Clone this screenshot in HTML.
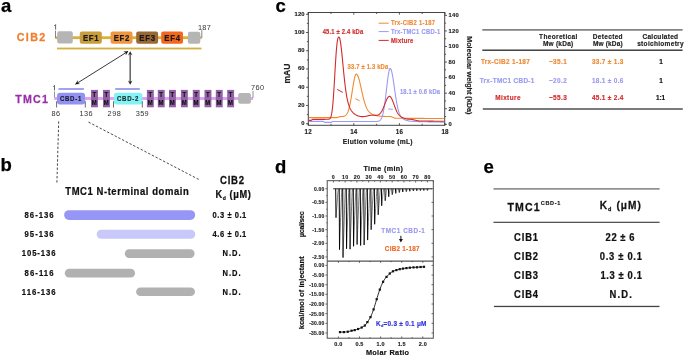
<!DOCTYPE html>
<html><head><meta charset="utf-8"><style>
html,body{margin:0;padding:0;background:#fff;overflow:hidden;width:685px;height:356px;}
svg{display:block;filter:blur(0.3px);}
text{font-family:"Liberation Sans",sans-serif;}
</style></head><body>
<svg width="685" height="356" viewBox="0 0 685 356">
<rect width="685" height="356" fill="#fff"/>
<text x="1.00" y="11.70" font-size="18.5" fill="#000" font-weight="bold" textLength="9.80" lengthAdjust="spacing" stroke="#000" stroke-width="0.250" >a</text>
<text transform="scale(0.92,1)" x="18.26" y="41.41" font-size="11.7" fill="#EE7F2E" font-weight="bold" textLength="30.87" lengthAdjust="spacing" stroke="#EE7F2E" stroke-width="0.250">CIB2</text>
<rect x="55.50" y="36.30" width="146.00" height="2.80" rx="0" fill="#D9B23A" />
<line x1="55.50" y1="30.60" x2="55.50" y2="38.20" stroke="#777" stroke-width="0.9" />
<path d="M54.2,26.0 L55.6,24.6 L55.6,29.5" fill="none" stroke="#333" stroke-width="0.75"/>
<rect x="57.20" y="31.20" width="15.60" height="12.40" rx="2" fill="#B5B5B5" />
<rect x="79.80" y="31.40" width="22.00" height="12.40" rx="2" fill="#C99C3C" />
<text transform="scale(0.92,1)" x="90.11" y="40.86" font-size="8.5" fill="#1a1a1a" font-weight="bold" textLength="17.17" lengthAdjust="spacing" stroke="#1a1a1a" stroke-width="0.204">EF1</text>
<rect x="110.60" y="31.40" width="21.90" height="12.40" rx="2" fill="#F0963E" />
<text transform="scale(0.92,1)" x="123.53" y="40.86" font-size="8.5" fill="#1a1a1a" font-weight="bold" textLength="17.17" lengthAdjust="spacing" stroke="#1a1a1a" stroke-width="0.204">EF2</text>
<rect x="136.20" y="31.40" width="21.90" height="12.40" rx="2" fill="#9A6834" />
<text transform="scale(0.92,1)" x="151.36" y="40.86" font-size="8.5" fill="#1a1a1a" font-weight="bold" textLength="17.17" lengthAdjust="spacing" stroke="#1a1a1a" stroke-width="0.204">EF3</text>
<rect x="161.20" y="31.40" width="21.80" height="12.40" rx="2" fill="#F2661E" />
<text transform="scale(0.92,1)" x="178.48" y="40.86" font-size="8.5" fill="#1a1a1a" font-weight="bold" textLength="17.17" lengthAdjust="spacing" stroke="#1a1a1a" stroke-width="0.204">EF4</text>
<rect x="187.90" y="31.80" width="12.40" height="12.00" rx="2" fill="#B5B5B5" />
<line x1="201.80" y1="30.20" x2="201.80" y2="38.00" stroke="#777" stroke-width="0.9" />
<text transform="scale(0.92,1)" x="215.22" y="29.68" font-size="8.0" fill="#333" font-weight="normal" textLength="13.91" lengthAdjust="spacing">187</text>
<rect x="57.00" y="47.60" width="144.50" height="1.80" rx="0" fill="#D4AF3A" />
<line x1="75.40" y1="84.30" x2="128.10" y2="51.30" stroke="#222" stroke-width="0.9" />
<path d="M128.10,51.30 L125.75,55.49 L125.86,52.70 L123.31,51.59Z" fill="#111"/>
<path d="M75.40,84.30 L77.75,80.11 L77.64,82.90 L80.19,84.01Z" fill="#111"/>
<line x1="130.20" y1="53.00" x2="130.20" y2="83.00" stroke="#6a6a6a" stroke-width="1.6" />
<path d="M130.20,51.20 L132.50,55.41 L130.20,53.84 L127.90,55.41Z" fill="#222"/>
<path d="M130.20,84.70 L127.90,80.49 L130.20,82.06 L132.50,80.49Z" fill="#222"/>
<text transform="scale(0.92,1)" x="16.63" y="103.03" font-size="11.6" fill="#9A2EA8" font-weight="bold" textLength="35.43" lengthAdjust="spacing" stroke="#9A2EA8" stroke-width="0.250">TMC1</text>
<rect x="54.30" y="97.00" width="198.80" height="3.00" rx="0" fill="#DDA6EE" />
<line x1="54.50" y1="91.50" x2="54.50" y2="97.50" stroke="#888" stroke-width="0.9" />
<path d="M53.1,86.8 L54.5,85.4 L54.5,90.4" fill="none" stroke="#333" stroke-width="0.75"/>
<rect x="58.50" y="88.20" width="25.40" height="1.60" rx="0" fill="#8C8CF0" />
<rect x="115.20" y="88.20" width="24.60" height="1.60" rx="0" fill="#8C8CF0" />
<rect x="57.00" y="92.70" width="28.10" height="11.90" rx="3" fill="#9292F2" />
<text transform="scale(0.92,1)" x="65.11" y="100.88" font-size="6.6" fill="#1a1a2a" font-weight="bold" textLength="23.26" lengthAdjust="spacing" stroke="#1a1a2a" stroke-width="0.158">CBD-1</text>
<rect x="113.90" y="92.80" width="28.50" height="11.80" rx="3" fill="#82F2F6" />
<text transform="scale(0.92,1)" x="127.07" y="100.93" font-size="6.6" fill="#1a2a2a" font-weight="bold" textLength="23.48" lengthAdjust="spacing" stroke="#1a2a2a" stroke-width="0.158">CBD-2</text>
<rect x="91.00" y="89.90" width="6.90" height="17.40" rx="0" fill="#9160A6" />
<text transform="scale(0.92,1)" x="100.54" y="97.04" font-size="6.5" fill="#111" font-weight="bold" textLength="4.24" lengthAdjust="spacing" stroke="#111" stroke-width="0.156">T</text>
<text transform="scale(0.92,1)" x="99.78" y="104.84" font-size="6.5" fill="#111" font-weight="bold" textLength="5.76" lengthAdjust="spacing" stroke="#111" stroke-width="0.156">M</text>
<rect x="103.00" y="89.90" width="6.90" height="17.40" rx="0" fill="#9160A6" />
<text transform="scale(0.92,1)" x="113.59" y="97.04" font-size="6.5" fill="#111" font-weight="bold" textLength="4.24" lengthAdjust="spacing" stroke="#111" stroke-width="0.156">T</text>
<text transform="scale(0.92,1)" x="112.83" y="104.84" font-size="6.5" fill="#111" font-weight="bold" textLength="5.76" lengthAdjust="spacing" stroke="#111" stroke-width="0.156">M</text>
<rect x="146.90" y="89.90" width="6.90" height="17.40" rx="0" fill="#9160A6" />
<text transform="scale(0.92,1)" x="161.30" y="97.04" font-size="6.5" fill="#111" font-weight="bold" textLength="4.24" lengthAdjust="spacing" stroke="#111" stroke-width="0.156">T</text>
<text transform="scale(0.92,1)" x="160.54" y="104.84" font-size="6.5" fill="#111" font-weight="bold" textLength="5.76" lengthAdjust="spacing" stroke="#111" stroke-width="0.156">M</text>
<rect x="157.80" y="89.90" width="6.90" height="17.40" rx="0" fill="#9160A6" />
<text transform="scale(0.92,1)" x="173.15" y="97.04" font-size="6.5" fill="#111" font-weight="bold" textLength="4.24" lengthAdjust="spacing" stroke="#111" stroke-width="0.156">T</text>
<text transform="scale(0.92,1)" x="172.39" y="104.84" font-size="6.5" fill="#111" font-weight="bold" textLength="5.76" lengthAdjust="spacing" stroke="#111" stroke-width="0.156">M</text>
<rect x="169.00" y="89.90" width="6.90" height="17.40" rx="0" fill="#9160A6" />
<text transform="scale(0.92,1)" x="185.33" y="97.04" font-size="6.5" fill="#111" font-weight="bold" textLength="4.24" lengthAdjust="spacing" stroke="#111" stroke-width="0.156">T</text>
<text transform="scale(0.92,1)" x="184.57" y="104.84" font-size="6.5" fill="#111" font-weight="bold" textLength="5.76" lengthAdjust="spacing" stroke="#111" stroke-width="0.156">M</text>
<rect x="180.90" y="89.90" width="6.90" height="17.40" rx="0" fill="#9160A6" />
<text transform="scale(0.92,1)" x="198.26" y="97.04" font-size="6.5" fill="#111" font-weight="bold" textLength="4.24" lengthAdjust="spacing" stroke="#111" stroke-width="0.156">T</text>
<text transform="scale(0.92,1)" x="197.50" y="104.84" font-size="6.5" fill="#111" font-weight="bold" textLength="5.76" lengthAdjust="spacing" stroke="#111" stroke-width="0.156">M</text>
<rect x="192.80" y="89.90" width="6.90" height="17.40" rx="0" fill="#9160A6" />
<text transform="scale(0.92,1)" x="211.20" y="97.04" font-size="6.5" fill="#111" font-weight="bold" textLength="4.24" lengthAdjust="spacing" stroke="#111" stroke-width="0.156">T</text>
<text transform="scale(0.92,1)" x="210.43" y="104.84" font-size="6.5" fill="#111" font-weight="bold" textLength="5.76" lengthAdjust="spacing" stroke="#111" stroke-width="0.156">M</text>
<rect x="204.50" y="89.90" width="6.90" height="17.40" rx="0" fill="#9160A6" />
<text transform="scale(0.92,1)" x="223.91" y="97.04" font-size="6.5" fill="#111" font-weight="bold" textLength="4.24" lengthAdjust="spacing" stroke="#111" stroke-width="0.156">T</text>
<text transform="scale(0.92,1)" x="223.15" y="104.84" font-size="6.5" fill="#111" font-weight="bold" textLength="5.76" lengthAdjust="spacing" stroke="#111" stroke-width="0.156">M</text>
<rect x="215.80" y="89.90" width="6.90" height="17.40" rx="0" fill="#9160A6" />
<text transform="scale(0.92,1)" x="236.20" y="97.04" font-size="6.5" fill="#111" font-weight="bold" textLength="4.24" lengthAdjust="spacing" stroke="#111" stroke-width="0.156">T</text>
<text transform="scale(0.92,1)" x="235.43" y="104.84" font-size="6.5" fill="#111" font-weight="bold" textLength="5.76" lengthAdjust="spacing" stroke="#111" stroke-width="0.156">M</text>
<rect x="227.20" y="89.90" width="6.90" height="17.40" rx="0" fill="#9160A6" />
<text transform="scale(0.92,1)" x="248.59" y="97.04" font-size="6.5" fill="#111" font-weight="bold" textLength="4.24" lengthAdjust="spacing" stroke="#111" stroke-width="0.156">T</text>
<text transform="scale(0.92,1)" x="247.83" y="104.84" font-size="6.5" fill="#111" font-weight="bold" textLength="5.76" lengthAdjust="spacing" stroke="#111" stroke-width="0.156">M</text>
<rect x="238.20" y="93.00" width="12.70" height="10.80" rx="2" fill="#B5B5B5" />
<line x1="253.00" y1="90.80" x2="253.00" y2="97.80" stroke="#888" stroke-width="0.9" />
<text transform="scale(0.92,1)" x="272.72" y="90.28" font-size="8.0" fill="#333" font-weight="normal" textLength="14.24" lengthAdjust="spacing">760</text>
<line x1="56.60" y1="101.30" x2="56.60" y2="107.50" stroke="#444" stroke-width="0.8" />
<line x1="85.30" y1="101.30" x2="85.30" y2="107.50" stroke="#444" stroke-width="0.8" />
<line x1="113.50" y1="101.30" x2="113.50" y2="107.50" stroke="#444" stroke-width="0.8" />
<line x1="142.30" y1="101.30" x2="142.30" y2="107.50" stroke="#444" stroke-width="0.8" />
<text transform="scale(0.92,1)" x="55.87" y="115.88" font-size="8.0" fill="#333" font-weight="normal" textLength="9.46" lengthAdjust="spacing">86</text>
<text transform="scale(0.92,1)" x="86.52" y="115.88" font-size="8.0" fill="#333" font-weight="normal" textLength="14.24" lengthAdjust="spacing">136</text>
<text transform="scale(0.92,1)" x="116.96" y="115.88" font-size="8.0" fill="#333" font-weight="normal" textLength="14.46" lengthAdjust="spacing">298</text>
<text transform="scale(0.92,1)" x="147.61" y="115.88" font-size="8.0" fill="#333" font-weight="normal" textLength="13.91" lengthAdjust="spacing">359</text>
<line x1="58.7" y1="121.4" x2="56.9" y2="182.6" stroke="#333" stroke-width="0.9" stroke-dasharray="2.4,1.8"/>
<line x1="88.5" y1="122.1" x2="199.1" y2="179.6" stroke="#333" stroke-width="0.9" stroke-dasharray="2.4,1.8"/>
<text x="0.60" y="171.30" font-size="18.5" fill="#000" font-weight="bold" textLength="11.60" lengthAdjust="spacing" stroke="#000" stroke-width="0.250" >b</text>
<text transform="scale(0.92,1)" x="70.98" y="194.80" font-size="10.3" fill="#111" font-weight="bold" textLength="134.13" lengthAdjust="spacing" stroke="#111" stroke-width="0.247">TMC1 N-terminal domain</text>
<text transform="scale(0.92,1)" x="239.02" y="184.04" font-size="10.4" fill="#111" font-weight="bold" textLength="26.41" lengthAdjust="spacing" stroke="#111" stroke-width="0.250">CIB2</text>
<text transform="scale(0.92,1)" x="234.24" y="198.20" font-size="10.0" fill="#111" font-weight="bold" textLength="38.48" lengthAdjust="spacing" stroke="#111" stroke-width="0.240">K<tspan font-size="5.5" dy="1.6">d</tspan><tspan dy="-1.6"> (μM)</tspan></text>
<rect x="64.10" y="210.20" width="131.10" height="9.70" rx="4.8500000000000085" fill="#9696F6" />
<rect x="96.70" y="229.70" width="98.50" height="9.10" rx="4.550000000000011" fill="#C8C8F9" />
<rect x="124.80" y="249.20" width="69.80" height="8.70" rx="4.349999999999994" fill="#B1B1B1" />
<rect x="64.80" y="268.80" width="70.20" height="8.70" rx="4.349999999999994" fill="#B1B1B1" />
<rect x="136.10" y="287.40" width="58.90" height="8.70" rx="4.350000000000023" fill="#B1B1B1" />
<text transform="scale(0.92,1)" x="26.74" y="218.02" font-size="8.4" fill="#111" font-weight="bold" textLength="31.41" lengthAdjust="spacing" stroke="#111" stroke-width="0.202">86-136</text>
<text transform="scale(0.92,1)" x="231.09" y="217.95" font-size="8.2" fill="#111" font-weight="bold" textLength="36.63" lengthAdjust="spacing" stroke="#111" stroke-width="0.197">0.3 ± 0.1</text>
<text transform="scale(0.92,1)" x="26.74" y="237.32" font-size="8.4" fill="#111" font-weight="bold" textLength="31.41" lengthAdjust="spacing" stroke="#111" stroke-width="0.202">95-136</text>
<text transform="scale(0.92,1)" x="231.09" y="237.25" font-size="8.2" fill="#111" font-weight="bold" textLength="36.63" lengthAdjust="spacing" stroke="#111" stroke-width="0.197">4.6 ± 0.1</text>
<text transform="scale(0.92,1)" x="23.70" y="256.42" font-size="8.4" fill="#111" font-weight="bold" textLength="36.63" lengthAdjust="spacing" stroke="#111" stroke-width="0.202">105-136</text>
<text transform="scale(0.92,1)" x="241.85" y="256.35" font-size="8.2" fill="#111" font-weight="bold" textLength="19.78" lengthAdjust="spacing" stroke="#111" stroke-width="0.197">N.D.</text>
<text transform="scale(0.92,1)" x="26.74" y="276.02" font-size="8.4" fill="#111" font-weight="bold" textLength="31.41" lengthAdjust="spacing" stroke="#111" stroke-width="0.202">86-116</text>
<text transform="scale(0.92,1)" x="241.85" y="275.95" font-size="8.2" fill="#111" font-weight="bold" textLength="19.78" lengthAdjust="spacing" stroke="#111" stroke-width="0.197">N.D.</text>
<text transform="scale(0.92,1)" x="23.70" y="294.92" font-size="8.4" fill="#111" font-weight="bold" textLength="36.63" lengthAdjust="spacing" stroke="#111" stroke-width="0.202">116-136</text>
<text transform="scale(0.92,1)" x="241.85" y="294.85" font-size="8.2" fill="#111" font-weight="bold" textLength="19.78" lengthAdjust="spacing" stroke="#111" stroke-width="0.197">N.D.</text>
<text x="275.60" y="11.70" font-size="18.5" fill="#000" font-weight="bold" textLength="10.60" lengthAdjust="spacing" stroke="#000" stroke-width="0.250" >c</text>
<defs><clipPath id="plotclip"><rect x="308.3" y="12.5" width="136.39999999999998" height="112.8"/></clipPath></defs>
<g clip-path="url(#plotclip)">
<path d="M308.90,117.60 L309.15,117.60 L309.40,117.60 L309.65,117.60 L309.90,117.60 L310.15,117.60 L310.40,117.60 L310.65,117.60 L310.90,117.60 L311.15,117.60 L311.40,117.60 L311.65,117.60 L311.90,117.60 L312.15,117.60 L312.40,117.60 L312.65,117.60 L312.90,117.60 L313.15,117.60 L313.40,117.60 L313.65,117.60 L313.90,117.60 L314.15,117.60 L314.40,117.60 L314.65,117.60 L314.90,117.60 L315.15,117.60 L315.40,117.60 L315.65,117.60 L315.90,117.60 L316.15,117.60 L316.40,117.60 L316.65,117.60 L316.90,117.60 L317.15,117.60 L317.40,117.60 L317.65,117.60 L317.90,117.60 L318.15,117.60 L318.40,117.60 L318.65,117.60 L318.90,117.60 L319.15,117.60 L319.40,117.60 L319.65,117.60 L319.90,117.60 L320.15,117.60 L320.40,117.60 L320.65,117.60 L320.90,117.60 L321.15,117.60 L321.40,117.60 L321.65,117.60 L321.90,117.60 L322.15,117.60 L322.40,117.60 L322.65,117.60 L322.90,117.60 L323.15,117.60 L323.40,117.60 L323.65,117.60 L323.90,117.60 L324.15,117.60 L324.40,117.60 L324.65,117.60 L324.90,117.60 L325.15,117.60 L325.40,117.60 L325.65,117.60 L325.90,117.60 L326.15,117.60 L326.40,117.60 L326.65,117.60 L326.90,117.60 L327.15,117.60 L327.40,117.60 L327.65,117.60 L327.90,117.60 L328.15,117.60 L328.40,117.60 L328.65,117.60 L328.90,117.60 L329.15,117.60 L329.40,117.60 L329.65,117.60 L329.90,117.60 L330.15,117.60 L330.40,117.60 L330.65,117.60 L330.90,117.60 L331.15,117.60 L331.40,117.60 L331.65,117.60 L331.90,117.60 L332.15,117.60 L332.40,117.60 L332.65,117.60 L332.90,117.60 L333.15,117.60 L333.40,117.60 L333.65,117.60 L333.90,117.60 L334.15,117.60 L334.40,117.60 L334.65,117.60 L334.90,117.60 L335.15,117.60 L335.40,117.60 L335.65,117.60 L335.90,117.60 L336.15,117.60 L336.40,117.60 L336.65,117.60 L336.90,117.60 L337.15,117.59 L337.40,117.55 L337.65,117.48 L337.90,117.38 L338.15,117.27 L338.40,117.15 L338.65,117.02 L338.90,116.90 L339.15,116.79 L339.40,116.70 L339.65,116.63 L339.90,116.59 L340.15,116.59 L340.40,116.58 L340.65,116.58 L340.90,116.57 L341.15,116.57 L341.40,116.56 L341.65,116.55 L341.90,116.53 L342.15,116.52 L342.40,116.50 L342.65,116.47 L342.90,116.44 L343.15,116.41 L343.40,116.36 L343.65,116.31 L343.90,116.25 L344.15,116.18 L344.40,116.09 L344.65,115.99 L344.90,115.87 L345.15,115.72 L345.40,115.56 L345.65,115.37 L345.90,115.15 L346.15,114.90 L346.40,114.61 L346.65,114.28 L346.90,113.91 L347.15,113.49 L347.40,113.02 L347.65,112.49 L347.90,111.91 L348.15,111.26 L348.40,110.55 L348.65,109.77 L348.90,108.91 L349.15,107.99 L349.40,106.99 L349.65,105.92 L349.90,104.77 L350.15,103.56 L350.40,102.27 L350.65,100.92 L350.90,99.50 L351.15,98.03 L351.40,96.52 L351.65,94.96 L351.90,93.38 L352.15,91.77 L352.40,90.16 L352.65,88.56 L352.90,86.97 L353.15,85.41 L353.40,83.90 L353.65,82.46 L353.90,81.08 L354.15,79.80 L354.40,78.61 L354.65,77.55 L354.90,76.60 L355.15,75.80 L355.40,75.14 L355.65,74.63 L355.90,74.29 L356.15,74.11 L356.40,74.08 L356.65,74.17 L356.90,74.35 L357.15,74.62 L357.40,74.98 L357.65,75.43 L357.90,75.96 L358.15,76.57 L358.40,77.26 L358.65,78.02 L358.90,78.85 L359.15,79.74 L359.40,80.68 L359.65,81.67 L359.90,82.70 L360.15,83.76 L360.40,84.85 L360.65,85.97 L360.90,87.10 L361.15,88.24 L361.40,89.39 L361.65,90.53 L361.90,91.66 L362.15,92.79 L362.40,93.90 L362.65,94.99 L362.90,96.05 L363.15,97.09 L363.40,98.10 L363.65,99.07 L363.90,100.01 L364.15,100.92 L364.40,101.79 L364.65,102.62 L364.90,103.42 L365.15,104.17 L365.40,104.89 L365.65,105.57 L365.90,106.22 L366.15,106.83 L366.40,107.40 L366.65,107.94 L366.90,108.45 L367.15,108.93 L367.40,109.38 L367.65,109.80 L367.90,110.19 L368.15,110.56 L368.40,110.91 L368.65,111.23 L368.90,111.53 L369.15,111.82 L369.40,112.08 L369.65,112.33 L369.90,112.57 L370.15,112.79 L370.40,112.99 L370.65,113.19 L370.90,113.37 L371.15,113.54 L371.40,113.70 L371.65,113.86 L371.90,114.00 L372.15,114.14 L372.40,114.27 L372.65,114.39 L372.90,114.51 L373.15,114.62 L373.40,114.72 L373.65,114.82 L373.90,114.92 L374.15,115.01 L374.40,115.09 L374.65,115.17 L374.90,115.25 L375.15,115.32 L375.40,115.39 L375.65,115.46 L375.90,115.52 L376.15,115.58 L376.40,115.64 L376.65,115.69 L376.90,115.74 L377.15,115.79 L377.40,115.83 L377.65,115.88 L377.90,115.92 L378.15,115.96 L378.40,115.99 L378.65,116.03 L378.90,116.06 L379.15,116.09 L379.40,116.12 L379.65,116.14 L379.90,116.17 L380.15,116.19 L380.40,116.21 L380.65,116.24 L380.90,116.26 L381.15,116.27 L381.40,116.29 L381.65,116.31 L381.90,116.32 L382.15,116.33 L382.40,116.35 L382.65,116.36 L382.90,116.37 L383.15,116.38 L383.40,116.39 L383.65,116.40 L383.90,116.41 L384.15,116.42 L384.40,116.42 L384.65,116.43 L384.90,116.43 L385.15,116.44 L385.40,116.45 L385.65,116.45 L385.90,116.45 L386.15,116.46 L386.40,116.46 L386.65,116.47 L386.90,116.47 L387.15,116.47 L387.40,116.47 L387.65,116.48 L387.90,116.48 L388.15,116.48 L388.40,116.48 L388.65,116.48 L388.90,116.49 L389.15,116.49 L389.40,116.49 L389.65,116.49 L389.90,116.49 L390.15,116.49 L390.40,116.51 L390.65,116.55 L390.90,116.60 L391.15,116.67 L391.40,116.74 L391.65,116.83 L391.90,116.92 L392.15,117.02 L392.40,117.13 L392.65,117.24 L392.90,117.35 L393.15,117.47 L393.40,117.58 L393.65,117.69 L393.90,117.79 L394.15,117.89 L394.40,117.98 L394.65,118.07 L394.90,118.14 L395.15,118.20 L395.40,118.25 L395.65,118.28 L395.90,118.30 L396.15,118.30 L396.40,118.30 L396.65,118.30 L396.90,118.30 L397.15,118.30 L397.40,118.30 L397.65,118.30 L397.90,118.30 L398.15,118.30 L398.40,118.30 L398.65,118.30 L398.90,118.30 L399.15,118.30 L399.40,118.30 L399.65,118.30 L399.90,118.30 L400.15,118.30 L400.40,118.30 L400.65,118.31 L400.90,118.31 L401.15,118.31 L401.40,118.31 L401.65,118.31 L401.90,118.31 L402.15,118.31 L402.40,118.31 L402.65,118.31 L402.90,118.31 L403.15,118.31 L403.40,118.31 L403.65,118.31 L403.90,118.31 L404.15,118.31 L404.40,118.32 L404.65,118.32 L404.90,118.32 L405.15,118.32 L405.40,118.32 L405.65,118.32 L405.90,118.32 L406.15,118.32 L406.40,118.32 L406.65,118.32 L406.90,118.33 L407.15,118.33 L407.40,118.33 L407.65,118.33 L407.90,118.33 L408.15,118.33 L408.40,118.33 L408.65,118.33 L408.90,118.33 L409.15,118.34 L409.40,118.34 L409.65,118.34 L409.90,118.34 L410.15,118.34 L410.40,118.34 L410.65,118.34 L410.90,118.34 L411.15,118.35 L411.40,118.35 L411.65,118.35 L411.90,118.35 L412.15,118.35 L412.40,118.35 L412.65,118.35 L412.90,118.36 L413.15,118.36 L413.40,118.36 L413.65,118.36 L413.90,118.36 L414.15,118.36 L414.40,118.36 L414.65,118.37 L414.90,118.37 L415.15,118.37 L415.40,118.37 L415.65,118.37 L415.90,118.37 L416.15,118.37 L416.40,118.38 L416.65,118.38 L416.90,118.38 L417.15,118.38 L417.40,118.38 L417.65,118.38 L417.90,118.38 L418.15,118.39 L418.40,118.39 L418.65,118.39 L418.90,118.39 L419.15,118.39 L419.40,118.39 L419.65,118.40 L419.90,118.40 L420.15,118.40 L420.40,118.40 L420.65,118.40 L420.90,118.40 L421.15,118.40 L421.40,118.41 L421.65,118.41 L421.90,118.41 L422.15,118.41 L422.40,118.41 L422.65,118.41 L422.90,118.42 L423.15,118.42 L423.40,118.42 L423.65,118.42 L423.90,118.42 L424.15,118.42 L424.40,118.42 L424.65,118.43 L424.90,118.43 L425.15,118.43 L425.40,118.43 L425.65,118.43 L425.90,118.43 L426.15,118.44 L426.40,118.44 L426.65,118.44 L426.90,118.44 L427.15,118.44 L427.40,118.44 L427.65,118.44 L427.90,118.45 L428.15,118.45 L428.40,118.45 L428.65,118.45 L428.90,118.45 L429.15,118.45 L429.40,118.45 L429.65,118.45 L429.90,118.46 L430.15,118.46 L430.40,118.46 L430.65,118.46 L430.90,118.46 L431.15,118.46 L431.40,118.46 L431.65,118.46 L431.90,118.47 L432.15,118.47 L432.40,118.47 L432.65,118.47 L432.90,118.47 L433.15,118.47 L433.40,118.47 L433.65,118.47 L433.90,118.47 L434.15,118.48 L434.40,118.48 L434.65,118.48 L434.90,118.48 L435.15,118.48 L435.40,118.48 L435.65,118.48 L435.90,118.48 L436.15,118.48 L436.40,118.48 L436.65,118.49 L436.90,118.49 L437.15,118.49 L437.40,118.49 L437.65,118.49 L437.90,118.49 L438.15,118.49 L438.40,118.49 L438.65,118.49 L438.90,118.49 L439.15,118.49 L439.40,118.49 L439.65,118.49 L439.90,118.49 L440.15,118.50 L440.40,118.50 L440.65,118.50 L440.90,118.50 L441.15,118.50 L441.40,118.50 L441.65,118.50 L441.90,118.50 L442.15,118.50 L442.40,118.50 L442.65,118.50 L442.90,118.50 L443.15,118.50 L443.40,118.50 L443.65,118.50 L443.90,118.50" fill="none" stroke="#F08A30" stroke-width="1.1" stroke-linejoin="round" />
<path d="M308.90,121.40 L309.15,121.40 L309.40,121.40 L309.65,121.40 L309.90,121.40 L310.15,121.40 L310.40,121.40 L310.65,121.40 L310.90,121.40 L311.15,121.40 L311.40,121.40 L311.65,121.40 L311.90,121.40 L312.15,121.40 L312.40,121.40 L312.65,121.40 L312.90,121.40 L313.15,121.40 L313.40,121.40 L313.65,121.40 L313.90,121.40 L314.15,121.40 L314.40,121.40 L314.65,121.40 L314.90,121.40 L315.15,121.40 L315.40,121.40 L315.65,121.40 L315.90,121.40 L316.15,121.40 L316.40,121.40 L316.65,121.40 L316.90,121.40 L317.15,121.40 L317.40,121.40 L317.65,121.40 L317.90,121.40 L318.15,121.40 L318.40,121.40 L318.65,121.40 L318.90,121.40 L319.15,121.40 L319.40,121.40 L319.65,121.40 L319.90,121.40 L320.15,121.40 L320.40,121.40 L320.65,121.40 L320.90,121.40 L321.15,121.40 L321.40,121.40 L321.65,121.40 L321.90,121.40 L322.15,121.40 L322.40,121.40 L322.65,121.40 L322.90,121.40 L323.15,121.40 L323.40,121.46 L323.65,121.64 L323.90,121.90 L324.15,122.16 L324.40,122.34 L324.65,122.40 L324.90,122.40 L325.15,122.40 L325.40,122.40 L325.65,122.40 L325.90,122.40 L326.15,122.40 L326.40,122.40 L326.65,122.40 L326.90,122.40 L327.15,122.40 L327.40,122.40 L327.65,122.40 L327.90,122.40 L328.15,122.40 L328.40,122.40 L328.65,122.40 L328.90,122.40 L329.15,122.40 L329.40,122.40 L329.65,122.40 L329.90,122.40 L330.15,122.40 L330.40,122.40 L330.65,122.40 L330.90,122.40 L331.15,122.40 L331.40,122.35 L331.65,122.18 L331.90,121.95 L332.15,121.72 L332.40,121.55 L332.65,121.50 L332.90,121.50 L333.15,121.50 L333.40,121.50 L333.65,121.50 L333.90,121.50 L334.15,121.50 L334.40,121.50 L334.65,121.50 L334.90,121.50 L335.15,121.50 L335.40,121.50 L335.65,121.50 L335.90,121.50 L336.15,121.50 L336.40,121.50 L336.65,121.50 L336.90,121.50 L337.15,121.50 L337.40,121.50 L337.65,121.50 L337.90,121.50 L338.15,121.50 L338.40,121.50 L338.65,121.50 L338.90,121.50 L339.15,121.50 L339.40,121.50 L339.65,121.50 L339.90,121.50 L340.15,121.50 L340.40,121.50 L340.65,121.50 L340.90,121.50 L341.15,121.50 L341.40,121.50 L341.65,121.50 L341.90,121.50 L342.15,121.50 L342.40,121.50 L342.65,121.50 L342.90,121.50 L343.15,121.50 L343.40,121.50 L343.65,121.50 L343.90,121.50 L344.15,121.50 L344.40,121.50 L344.65,121.50 L344.90,121.50 L345.15,121.50 L345.40,121.50 L345.65,121.50 L345.90,121.50 L346.15,121.50 L346.40,121.50 L346.65,121.50 L346.90,121.50 L347.15,121.50 L347.40,121.50 L347.65,121.50 L347.90,121.50 L348.15,121.50 L348.40,121.50 L348.65,121.50 L348.90,121.50 L349.15,121.50 L349.40,121.50 L349.65,121.50 L349.90,121.50 L350.15,121.50 L350.40,121.50 L350.65,121.50 L350.90,121.50 L351.15,121.50 L351.40,121.50 L351.65,121.50 L351.90,121.50 L352.15,121.50 L352.40,121.50 L352.65,121.50 L352.90,121.50 L353.15,121.50 L353.40,121.50 L353.65,121.50 L353.90,121.50 L354.15,121.50 L354.40,121.50 L354.65,121.50 L354.90,121.50 L355.15,121.50 L355.40,121.50 L355.65,121.50 L355.90,121.50 L356.15,121.50 L356.40,121.50 L356.65,121.50 L356.90,121.50 L357.15,121.50 L357.40,121.50 L357.65,121.50 L357.90,121.50 L358.15,121.50 L358.40,121.50 L358.65,121.50 L358.90,121.50 L359.15,121.50 L359.40,121.50 L359.65,121.50 L359.90,121.50 L360.15,121.50 L360.40,121.50 L360.65,121.50 L360.90,121.50 L361.15,121.50 L361.40,121.50 L361.65,121.50 L361.90,121.50 L362.15,121.50 L362.40,121.50 L362.65,121.50 L362.90,121.50 L363.15,121.50 L363.40,121.50 L363.65,121.50 L363.90,121.50 L364.15,121.50 L364.40,121.50 L364.65,121.50 L364.90,121.50 L365.15,121.50 L365.40,121.50 L365.65,121.50 L365.90,121.50 L366.15,121.50 L366.40,121.50 L366.65,121.50 L366.90,121.50 L367.15,121.50 L367.40,121.50 L367.65,121.50 L367.90,121.50 L368.15,121.50 L368.40,121.50 L368.65,121.50 L368.90,121.50 L369.15,121.50 L369.40,121.50 L369.65,121.50 L369.90,121.50 L370.15,121.50 L370.40,121.50 L370.65,121.50 L370.90,121.50 L371.15,121.50 L371.40,121.50 L371.65,121.50 L371.90,121.50 L372.15,121.50 L372.40,121.50 L372.65,121.50 L372.90,121.50 L373.15,121.50 L373.40,121.50 L373.65,121.50 L373.90,121.50 L374.15,121.50 L374.40,121.49 L374.65,121.49 L374.90,121.49 L375.15,121.49 L375.40,121.48 L375.65,121.48 L375.90,121.47 L376.15,121.46 L376.40,121.45 L376.65,121.44 L376.90,121.42 L377.15,121.39 L377.40,121.37 L377.65,121.33 L377.90,121.29 L378.15,121.24 L378.40,121.17 L378.65,121.09 L378.90,121.00 L379.15,120.89 L379.40,120.75 L379.65,120.59 L379.90,120.40 L380.15,120.17 L380.40,119.91 L380.65,119.60 L380.90,119.25 L381.15,118.83 L381.40,118.36 L381.65,117.82 L381.90,117.21 L382.15,116.52 L382.40,115.75 L382.65,114.88 L382.90,113.92 L383.15,112.86 L383.40,111.70 L383.65,110.43 L383.90,109.05 L384.15,107.56 L384.40,105.97 L384.65,104.28 L384.90,102.49 L385.15,100.60 L385.40,98.63 L385.65,96.60 L385.90,94.50 L386.15,92.36 L386.40,90.20 L386.65,88.03 L386.90,85.87 L387.15,83.74 L387.40,81.67 L387.65,79.67 L387.90,77.78 L388.15,76.01 L388.40,74.38 L388.65,72.92 L388.90,71.64 L389.15,70.55 L389.40,69.69 L389.65,69.04 L389.90,68.63 L390.15,68.46 L390.40,68.51 L390.65,68.74 L390.90,69.14 L391.15,69.72 L391.40,70.45 L391.65,71.34 L391.90,72.38 L392.15,73.55 L392.40,74.84 L392.65,76.25 L392.90,77.75 L393.15,79.33 L393.40,80.97 L393.65,82.67 L393.90,84.41 L394.15,86.17 L394.40,87.94 L394.65,89.71 L394.90,91.46 L395.15,93.19 L395.40,94.88 L395.65,96.53 L395.90,98.12 L396.15,99.66 L396.40,101.14 L396.65,102.55 L396.90,103.88 L397.15,105.15 L397.40,106.34 L397.65,107.46 L397.90,108.51 L398.15,109.49 L398.40,110.40 L398.65,111.24 L398.90,112.02 L399.15,112.74 L399.40,113.41 L399.65,114.02 L399.90,114.58 L400.15,115.09 L400.40,115.56 L400.65,115.99 L400.90,116.39 L401.15,116.75 L401.40,117.09 L401.65,117.39 L401.90,117.68 L402.15,117.94 L402.40,118.17 L402.65,118.40 L402.90,118.60 L403.15,118.79 L403.40,118.97 L403.65,119.13 L403.90,119.28 L404.15,119.42 L404.40,119.56 L404.65,119.68 L404.90,119.80 L405.15,119.91 L405.40,120.01 L405.65,120.11 L405.90,120.20 L406.15,120.28 L406.40,120.36 L406.65,120.44 L406.90,120.51 L407.15,120.58 L407.40,120.64 L407.65,120.70 L407.90,120.75 L408.15,120.81 L408.40,120.86 L408.65,120.90 L408.90,120.94 L409.15,120.99 L409.40,121.02 L409.65,121.06 L409.90,121.09 L410.15,121.12 L410.40,121.15 L410.65,121.18 L410.90,121.21 L411.15,121.23 L411.40,121.25 L411.65,121.27 L411.90,121.29 L412.15,121.31 L412.40,121.33 L412.65,121.35 L412.90,121.36 L413.15,121.38 L413.40,121.39 L413.65,121.41 L413.90,121.42 L414.15,121.43 L414.40,121.44 L414.65,121.45 L414.90,121.46 L415.15,121.47 L415.40,121.48 L415.65,121.49 L415.90,121.50 L416.15,121.51 L416.40,121.52 L416.65,121.52 L416.90,121.53 L417.15,121.54 L417.40,121.55 L417.65,121.55 L417.90,121.56 L418.15,121.57 L418.40,121.58 L418.65,121.58 L418.90,121.59 L419.15,121.60 L419.40,121.60 L419.65,121.61 L419.90,121.62 L420.15,121.62 L420.40,121.63 L420.65,121.64 L420.90,121.64 L421.15,121.65 L421.40,121.66 L421.65,121.66 L421.90,121.67 L422.15,121.68 L422.40,121.68 L422.65,121.69 L422.90,121.70 L423.15,121.70 L423.40,121.71 L423.65,121.72 L423.90,121.72 L424.15,121.73 L424.40,121.74 L424.65,121.74 L424.90,121.75 L425.15,121.76 L425.40,121.76 L425.65,121.77 L425.90,121.78 L426.15,121.78 L426.40,121.79 L426.65,121.80 L426.90,121.80 L427.15,121.81 L427.40,121.82 L427.65,121.82 L427.90,121.83 L428.15,121.84 L428.40,121.84 L428.65,121.85 L428.90,121.86 L429.15,121.86 L429.40,121.87 L429.65,121.87 L429.90,121.88 L430.15,121.89 L430.40,121.89 L430.65,121.90 L430.90,121.91 L431.15,121.91 L431.40,121.92 L431.65,121.92 L431.90,121.93 L432.15,121.93 L432.40,121.94 L432.65,121.95 L432.90,121.95 L433.15,121.96 L433.40,121.96 L433.65,121.97 L433.90,121.97 L434.15,121.98 L434.40,121.98 L434.65,121.99 L434.90,121.99 L435.15,122.00 L435.40,122.00 L435.65,122.01 L435.90,122.01 L436.15,122.02 L436.40,122.02 L436.65,122.03 L436.90,122.03 L437.15,122.03 L437.40,122.04 L437.65,122.04 L437.90,122.05 L438.15,122.05 L438.40,122.05 L438.65,122.06 L438.90,122.06 L439.15,122.06 L439.40,122.07 L439.65,122.07 L439.90,122.07 L440.15,122.07 L440.40,122.08 L440.65,122.08 L440.90,122.08 L441.15,122.08 L441.40,122.09 L441.65,122.09 L441.90,122.09 L442.15,122.09 L442.40,122.09 L442.65,122.09 L442.90,122.10 L443.15,122.10 L443.40,122.10 L443.65,122.10 L443.90,122.10" fill="none" stroke="#9A9AF4" stroke-width="1.1" stroke-linejoin="round" />
<path d="M308.90,120.40 L309.15,120.40 L309.40,120.40 L309.65,120.40 L309.90,120.40 L310.15,120.40 L310.40,120.40 L310.65,120.40 L310.90,120.40 L311.15,120.40 L311.40,120.34 L311.65,120.16 L311.90,119.90 L312.15,119.64 L312.40,119.46 L312.65,119.40 L312.90,119.40 L313.15,119.40 L313.40,119.40 L313.65,119.40 L313.90,119.40 L314.15,119.40 L314.40,119.40 L314.65,119.40 L314.90,119.40 L315.15,119.39 L315.40,119.39 L315.65,119.39 L315.90,119.39 L316.15,119.39 L316.40,119.39 L316.65,119.39 L316.90,119.39 L317.15,119.38 L317.40,119.38 L317.65,119.38 L317.90,119.38 L318.15,119.38 L318.40,119.38 L318.65,119.37 L318.90,119.37 L319.15,119.37 L319.40,119.37 L319.65,119.37 L319.90,119.37 L320.15,119.36 L320.40,119.36 L320.65,119.36 L320.90,119.36 L321.15,119.36 L321.40,119.35 L321.65,119.35 L321.90,119.35 L322.15,119.35 L322.40,119.35 L322.65,119.34 L322.90,119.34 L323.15,119.34 L323.40,119.34 L323.65,119.34 L323.90,119.33 L324.15,119.33 L324.40,119.33 L324.65,119.33 L324.90,119.33 L325.15,119.32 L325.40,119.32 L325.65,119.32 L325.90,119.32 L326.15,119.32 L326.40,119.31 L326.65,119.31 L326.90,119.31 L327.15,119.30 L327.40,119.30 L327.65,119.29 L327.90,119.28 L328.15,119.26 L328.40,119.23 L328.65,119.19 L328.90,119.14 L329.15,119.05 L329.40,118.94 L329.65,118.78 L329.90,118.56 L330.15,118.27 L330.40,117.88 L330.65,117.38 L330.90,116.74 L331.15,115.93 L331.40,114.93 L331.65,113.70 L331.90,112.22 L332.15,110.46 L332.40,108.42 L332.65,106.06 L332.90,103.39 L333.15,100.41 L333.40,97.12 L333.65,93.56 L333.90,89.74 L334.15,85.72 L334.40,81.55 L334.65,77.28 L334.90,72.97 L335.15,68.69 L335.40,64.51 L335.65,60.49 L335.90,56.68 L336.15,53.15 L336.40,49.94 L336.65,47.08 L336.90,44.59 L337.15,42.48 L337.40,40.76 L337.65,39.42 L337.90,38.42 L338.15,37.74 L338.40,37.33 L338.65,37.14 L338.90,37.08 L339.15,37.20 L339.40,37.59 L339.65,38.24 L339.90,39.15 L340.15,40.31 L340.40,41.70 L340.65,43.30 L340.90,45.11 L341.15,47.09 L341.40,49.23 L341.65,51.50 L341.90,53.89 L342.15,56.36 L342.40,58.90 L342.65,61.48 L342.90,64.08 L343.15,66.69 L343.40,69.28 L343.65,71.83 L343.90,74.33 L344.15,76.77 L344.40,79.14 L344.65,81.42 L344.90,83.61 L345.15,85.71 L345.40,87.70 L345.65,89.58 L345.90,91.36 L346.15,93.03 L346.40,94.59 L346.65,96.05 L346.90,97.42 L347.15,98.69 L347.40,99.87 L347.65,100.96 L347.90,101.98 L348.15,102.92 L348.40,103.80 L348.65,104.61 L348.90,105.36 L349.15,106.06 L349.40,106.71 L349.65,107.32 L349.90,107.88 L350.15,108.41 L350.40,108.91 L350.65,109.37 L350.90,109.81 L351.15,110.22 L351.40,110.61 L351.65,110.98 L351.90,111.33 L352.15,111.65 L352.40,111.97 L352.65,112.26 L352.90,112.54 L353.15,112.81 L353.40,113.06 L353.65,113.30 L353.90,113.53 L354.15,113.74 L354.40,113.95 L354.65,114.14 L354.90,114.32 L355.15,114.50 L355.40,114.66 L355.65,114.82 L355.90,114.96 L356.15,115.10 L356.40,115.23 L356.65,115.35 L356.90,115.47 L357.15,115.57 L357.40,115.68 L357.65,115.77 L357.90,115.86 L358.15,115.94 L358.40,116.02 L358.65,116.09 L358.90,116.16 L359.15,116.22 L359.40,116.28 L359.65,116.33 L359.90,116.38 L360.15,116.42 L360.40,116.47 L360.65,116.51 L360.90,116.54 L361.15,116.57 L361.40,116.60 L361.65,116.62 L361.90,116.64 L362.15,116.65 L362.40,116.66 L362.65,116.66 L362.90,116.65 L363.15,116.64 L363.40,116.63 L363.65,116.61 L363.90,116.59 L364.15,116.57 L364.40,116.54 L364.65,116.50 L364.90,116.46 L365.15,116.42 L365.40,116.38 L365.65,116.33 L365.90,116.28 L366.15,116.23 L366.40,116.17 L366.65,116.12 L366.90,116.06 L367.15,116.00 L367.40,115.94 L367.65,115.88 L367.90,115.82 L368.15,115.76 L368.40,115.71 L368.65,115.65 L368.90,115.60 L369.15,115.55 L369.40,115.50 L369.65,115.45 L369.90,115.41 L370.15,115.37 L370.40,115.34 L370.65,115.31 L370.90,115.28 L371.15,115.26 L371.40,115.24 L371.65,115.23 L371.90,115.22 L372.15,115.21 L372.40,115.21 L372.65,115.21 L372.90,115.22 L373.15,115.23 L373.40,115.24 L373.65,115.26 L373.90,115.27 L374.15,115.29 L374.40,115.31 L374.65,115.32 L374.90,115.34 L375.15,115.35 L375.40,115.36 L375.65,115.36 L375.90,115.36 L376.15,115.36 L376.40,115.35 L376.65,115.32 L376.90,115.29 L377.15,115.25 L377.40,115.20 L377.65,115.13 L377.90,115.05 L378.15,114.96 L378.40,114.85 L378.65,114.71 L378.90,114.56 L379.15,114.39 L379.40,114.20 L379.65,113.99 L379.90,113.75 L380.15,113.49 L380.40,113.20 L380.65,112.88 L380.90,112.54 L381.15,112.18 L381.40,111.78 L381.65,111.36 L381.90,110.91 L382.15,110.44 L382.40,109.94 L382.65,109.42 L382.90,108.87 L383.15,108.30 L383.40,107.71 L383.65,107.10 L383.90,106.48 L384.15,105.85 L384.40,105.20 L384.65,104.56 L384.90,103.90 L385.15,103.25 L385.40,102.61 L385.65,101.98 L385.90,101.35 L386.15,100.75 L386.40,100.17 L386.65,99.62 L386.90,99.09 L387.15,98.61 L387.40,98.16 L387.65,97.75 L387.90,97.39 L388.15,97.08 L388.40,96.82 L388.65,96.61 L388.90,96.46 L389.15,96.37 L389.40,96.33 L389.65,96.35 L389.90,96.44 L390.15,96.58 L390.40,96.78 L390.65,97.05 L390.90,97.36 L391.15,97.73 L391.40,98.15 L391.65,98.61 L391.90,99.12 L392.15,99.67 L392.40,100.25 L392.65,100.86 L392.90,101.49 L393.15,102.15 L393.40,102.82 L393.65,103.50 L393.90,104.19 L394.15,104.89 L394.40,105.58 L394.65,106.27 L394.90,106.94 L395.15,107.61 L395.40,108.26 L395.65,108.89 L395.90,109.51 L396.15,110.10 L396.40,110.66 L396.65,111.20 L396.90,111.72 L397.15,112.20 L397.40,112.66 L397.65,113.09 L397.90,113.49 L398.15,113.87 L398.40,114.22 L398.65,114.55 L398.90,114.86 L399.15,115.16 L399.40,115.43 L399.65,115.68 L399.90,115.92 L400.15,116.14 L400.40,116.35 L400.65,116.54 L400.90,116.72 L401.15,116.89 L401.40,117.04 L401.65,117.19 L401.90,117.32 L402.15,117.45 L402.40,117.57 L402.65,117.69 L402.90,117.79 L403.15,117.90 L403.40,117.99 L403.65,118.08 L403.90,118.17 L404.15,118.26 L404.40,118.34 L404.65,118.41 L404.90,118.49 L405.15,118.56 L405.40,118.62 L405.65,118.69 L405.90,118.75 L406.15,118.81 L406.40,118.87 L406.65,118.92 L406.90,118.97 L407.15,119.02 L407.40,119.06 L407.65,119.10 L407.90,119.14 L408.15,119.17 L408.40,119.20 L408.65,119.23 L408.90,119.25 L409.15,119.27 L409.40,119.28 L409.65,119.29 L409.90,119.30 L410.15,119.30 L410.40,119.31 L410.65,119.32 L410.90,119.34 L411.15,119.36 L411.40,119.39 L411.65,119.42 L411.90,119.46 L412.15,119.50 L412.40,119.55 L412.65,119.59 L412.90,119.65 L413.15,119.70 L413.40,119.76 L413.65,119.81 L413.90,119.87 L414.15,119.94 L414.40,120.00 L414.65,120.06 L414.90,120.12 L415.15,120.19 L415.40,120.25 L415.65,120.31 L415.90,120.38 L416.15,120.44 L416.40,120.50 L416.65,120.56 L416.90,120.61 L417.15,120.66 L417.40,120.71 L417.65,120.76 L417.90,120.81 L418.15,120.85 L418.40,120.88 L418.65,120.92 L418.90,120.94 L419.15,120.97 L419.40,120.98 L419.65,120.99 L419.90,121.00 L420.15,121.00 L420.40,121.00 L420.65,121.00 L420.90,121.00 L421.15,121.00 L421.40,121.00 L421.65,121.00 L421.90,121.01 L422.15,121.01 L422.40,121.01 L422.65,121.01 L422.90,121.01 L423.15,121.01 L423.40,121.02 L423.65,121.02 L423.90,121.02 L424.15,121.02 L424.40,121.03 L424.65,121.03 L424.90,121.03 L425.15,121.03 L425.40,121.04 L425.65,121.04 L425.90,121.04 L426.15,121.05 L426.40,121.05 L426.65,121.05 L426.90,121.06 L427.15,121.06 L427.40,121.06 L427.65,121.07 L427.90,121.07 L428.15,121.08 L428.40,121.08 L428.65,121.08 L428.90,121.09 L429.15,121.09 L429.40,121.10 L429.65,121.10 L429.90,121.11 L430.15,121.11 L430.40,121.11 L430.65,121.12 L430.90,121.12 L431.15,121.13 L431.40,121.13 L431.65,121.14 L431.90,121.14 L432.15,121.15 L432.40,121.15 L432.65,121.16 L432.90,121.16 L433.15,121.16 L433.40,121.17 L433.65,121.17 L433.90,121.18 L434.15,121.18 L434.40,121.19 L434.65,121.19 L434.90,121.20 L435.15,121.20 L435.40,121.20 L435.65,121.21 L435.90,121.21 L436.15,121.22 L436.40,121.22 L436.65,121.23 L436.90,121.23 L437.15,121.23 L437.40,121.24 L437.65,121.24 L437.90,121.24 L438.15,121.25 L438.40,121.25 L438.65,121.25 L438.90,121.26 L439.15,121.26 L439.40,121.26 L439.65,121.27 L439.90,121.27 L440.15,121.27 L440.40,121.28 L440.65,121.28 L440.90,121.28 L441.15,121.28 L441.40,121.29 L441.65,121.29 L441.90,121.29 L442.15,121.29 L442.40,121.29 L442.65,121.29 L442.90,121.30 L443.15,121.30 L443.40,121.30 L443.65,121.30 L443.90,121.30" fill="none" stroke="#D42A2A" stroke-width="1.1" stroke-linejoin="round" />
</g>
<line x1="337.10" y1="89.40" x2="342.80" y2="92.40" stroke="#D22B2B" stroke-width="1.0" />
<line x1="355.30" y1="98.70" x2="359.60" y2="100.70" stroke="#EE8A34" stroke-width="1.0" />
<line x1="388.30" y1="108.90" x2="392.80" y2="109.40" stroke="#9A9AF2" stroke-width="1.0" />
<rect x="308.3" y="12.5" width="136.39999999999998" height="112.8" fill="none" stroke="#444" stroke-width="1.0"/>
<line x1="306.00" y1="123.70" x2="308.30" y2="123.70" stroke="#333" stroke-width="0.8" />
<line x1="306.90" y1="114.58" x2="308.30" y2="114.58" stroke="#333" stroke-width="0.8" />
<line x1="306.00" y1="105.46" x2="308.30" y2="105.46" stroke="#333" stroke-width="0.8" />
<line x1="306.90" y1="96.34" x2="308.30" y2="96.34" stroke="#333" stroke-width="0.8" />
<line x1="306.00" y1="87.22" x2="308.30" y2="87.22" stroke="#333" stroke-width="0.8" />
<line x1="306.90" y1="78.10" x2="308.30" y2="78.10" stroke="#333" stroke-width="0.8" />
<line x1="306.00" y1="68.98" x2="308.30" y2="68.98" stroke="#333" stroke-width="0.8" />
<line x1="306.90" y1="59.86" x2="308.30" y2="59.86" stroke="#333" stroke-width="0.8" />
<line x1="306.00" y1="50.74" x2="308.30" y2="50.74" stroke="#333" stroke-width="0.8" />
<line x1="306.90" y1="41.62" x2="308.30" y2="41.62" stroke="#333" stroke-width="0.8" />
<line x1="306.00" y1="32.50" x2="308.30" y2="32.50" stroke="#333" stroke-width="0.8" />
<line x1="306.90" y1="23.38" x2="308.30" y2="23.38" stroke="#333" stroke-width="0.8" />
<line x1="306.00" y1="14.26" x2="308.30" y2="14.26" stroke="#333" stroke-width="0.8" />
<text transform="scale(0.95,1)" x="320.84" y="125.20" font-size="6.2" fill="#222" font-weight="bold" text-anchor="end" letter-spacing="0.15" stroke="#222" stroke-width="0.136">0</text>
<text transform="scale(0.95,1)" x="320.84" y="106.96" font-size="6.2" fill="#222" font-weight="bold" text-anchor="end" letter-spacing="0.15" stroke="#222" stroke-width="0.136">20</text>
<text transform="scale(0.95,1)" x="320.84" y="88.72" font-size="6.2" fill="#222" font-weight="bold" text-anchor="end" letter-spacing="0.15" stroke="#222" stroke-width="0.136">40</text>
<text transform="scale(0.95,1)" x="320.84" y="70.48" font-size="6.2" fill="#222" font-weight="bold" text-anchor="end" letter-spacing="0.15" stroke="#222" stroke-width="0.136">60</text>
<text transform="scale(0.95,1)" x="320.84" y="52.24" font-size="6.2" fill="#222" font-weight="bold" text-anchor="end" letter-spacing="0.15" stroke="#222" stroke-width="0.136">80</text>
<text transform="scale(0.95,1)" x="320.84" y="34.00" font-size="6.2" fill="#222" font-weight="bold" text-anchor="end" letter-spacing="0.15" stroke="#222" stroke-width="0.136">100</text>
<text transform="scale(0.95,1)" x="320.84" y="15.76" font-size="6.2" fill="#222" font-weight="bold" text-anchor="end" letter-spacing="0.15" stroke="#222" stroke-width="0.136">120</text>
<line x1="444.70" y1="124.30" x2="447.00" y2="124.30" stroke="#333" stroke-width="0.8" />
<line x1="444.70" y1="116.52" x2="446.10" y2="116.52" stroke="#333" stroke-width="0.8" />
<line x1="444.70" y1="108.74" x2="447.00" y2="108.74" stroke="#333" stroke-width="0.8" />
<line x1="444.70" y1="100.96" x2="446.10" y2="100.96" stroke="#333" stroke-width="0.8" />
<line x1="444.70" y1="93.18" x2="447.00" y2="93.18" stroke="#333" stroke-width="0.8" />
<line x1="444.70" y1="85.40" x2="446.10" y2="85.40" stroke="#333" stroke-width="0.8" />
<line x1="444.70" y1="77.62" x2="447.00" y2="77.62" stroke="#333" stroke-width="0.8" />
<line x1="444.70" y1="69.84" x2="446.10" y2="69.84" stroke="#333" stroke-width="0.8" />
<line x1="444.70" y1="62.06" x2="447.00" y2="62.06" stroke="#333" stroke-width="0.8" />
<line x1="444.70" y1="54.28" x2="446.10" y2="54.28" stroke="#333" stroke-width="0.8" />
<line x1="444.70" y1="46.50" x2="447.00" y2="46.50" stroke="#333" stroke-width="0.8" />
<line x1="444.70" y1="38.72" x2="446.10" y2="38.72" stroke="#333" stroke-width="0.8" />
<line x1="444.70" y1="30.94" x2="447.00" y2="30.94" stroke="#333" stroke-width="0.8" />
<line x1="444.70" y1="23.16" x2="446.10" y2="23.16" stroke="#333" stroke-width="0.8" />
<line x1="444.70" y1="15.38" x2="447.00" y2="15.38" stroke="#333" stroke-width="0.8" />
<text transform="scale(0.95,1)" x="472.21" y="126.10" font-size="6.2" fill="#222" font-weight="bold" text-anchor="start" letter-spacing="0.15" stroke="#222" stroke-width="0.136">0</text>
<text transform="scale(0.95,1)" x="472.21" y="110.54" font-size="6.2" fill="#222" font-weight="bold" text-anchor="start" letter-spacing="0.15" stroke="#222" stroke-width="0.136">20</text>
<text transform="scale(0.95,1)" x="472.21" y="94.98" font-size="6.2" fill="#222" font-weight="bold" text-anchor="start" letter-spacing="0.15" stroke="#222" stroke-width="0.136">40</text>
<text transform="scale(0.95,1)" x="472.21" y="79.42" font-size="6.2" fill="#222" font-weight="bold" text-anchor="start" letter-spacing="0.15" stroke="#222" stroke-width="0.136">60</text>
<text transform="scale(0.95,1)" x="472.21" y="63.86" font-size="6.2" fill="#222" font-weight="bold" text-anchor="start" letter-spacing="0.15" stroke="#222" stroke-width="0.136">80</text>
<text transform="scale(0.95,1)" x="472.21" y="48.30" font-size="6.2" fill="#222" font-weight="bold" text-anchor="start" letter-spacing="0.15" stroke="#222" stroke-width="0.136">100</text>
<text transform="scale(0.95,1)" x="472.21" y="32.74" font-size="6.2" fill="#222" font-weight="bold" text-anchor="start" letter-spacing="0.15" stroke="#222" stroke-width="0.136">120</text>
<text transform="scale(0.95,1)" x="472.21" y="17.18" font-size="6.2" fill="#222" font-weight="bold" text-anchor="start" letter-spacing="0.15" stroke="#222" stroke-width="0.136">140</text>
<line x1="308.20" y1="125.30" x2="308.20" y2="123.10" stroke="#333" stroke-width="0.8" />
<line x1="308.20" y1="12.50" x2="308.20" y2="14.70" stroke="#333" stroke-width="0.8" />
<line x1="331.00" y1="125.30" x2="331.00" y2="123.80" stroke="#333" stroke-width="0.8" />
<line x1="331.00" y1="12.50" x2="331.00" y2="14.00" stroke="#333" stroke-width="0.8" />
<line x1="353.80" y1="125.30" x2="353.80" y2="123.10" stroke="#333" stroke-width="0.8" />
<line x1="353.80" y1="12.50" x2="353.80" y2="14.70" stroke="#333" stroke-width="0.8" />
<line x1="376.60" y1="125.30" x2="376.60" y2="123.80" stroke="#333" stroke-width="0.8" />
<line x1="376.60" y1="12.50" x2="376.60" y2="14.00" stroke="#333" stroke-width="0.8" />
<line x1="399.40" y1="125.30" x2="399.40" y2="123.10" stroke="#333" stroke-width="0.8" />
<line x1="399.40" y1="12.50" x2="399.40" y2="14.70" stroke="#333" stroke-width="0.8" />
<line x1="422.20" y1="125.30" x2="422.20" y2="123.80" stroke="#333" stroke-width="0.8" />
<line x1="422.20" y1="12.50" x2="422.20" y2="14.00" stroke="#333" stroke-width="0.8" />
<line x1="445.00" y1="125.30" x2="445.00" y2="123.10" stroke="#333" stroke-width="0.8" />
<line x1="445.00" y1="12.50" x2="445.00" y2="14.70" stroke="#333" stroke-width="0.8" />
<text transform="scale(0.95,1)" x="324.42" y="133.70" font-size="6.6" fill="#222" font-weight="bold" text-anchor="middle" letter-spacing="0.15" stroke="#222" stroke-width="0.145">12</text>
<text transform="scale(0.95,1)" x="372.42" y="133.70" font-size="6.6" fill="#222" font-weight="bold" text-anchor="middle" letter-spacing="0.15" stroke="#222" stroke-width="0.145">14</text>
<text transform="scale(0.95,1)" x="420.42" y="133.70" font-size="6.6" fill="#222" font-weight="bold" text-anchor="middle" letter-spacing="0.15" stroke="#222" stroke-width="0.145">16</text>
<text transform="scale(0.95,1)" x="468.42" y="133.70" font-size="6.6" fill="#222" font-weight="bold" text-anchor="middle" letter-spacing="0.15" stroke="#222" stroke-width="0.145">18</text>
<text transform="scale(0.92,1)" x="372.61" y="144.20" font-size="7.3" fill="#222" font-weight="bold" textLength="75.87" lengthAdjust="spacing" stroke="#222" stroke-width="0.175">Elution volume (mL)</text>
<text x="0.00" y="0.00" font-size="8.6" fill="#222" font-weight="bold" textLength="19.90" lengthAdjust="spacing" stroke="#222" stroke-width="0.206" transform="translate(289.9,83.5) rotate(-90)">mAU</text>
<text x="0.00" y="0.00" font-size="7.4" fill="#222" font-weight="bold" textLength="78.30" lengthAdjust="spacing" stroke="#222" stroke-width="0.178" transform="translate(466.6,36.1) rotate(90)">Molecular weight (kDa)</text>
<line x1="378.60" y1="23.20" x2="388.70" y2="23.20" stroke="#EE8A34" stroke-width="1.0" />
<text transform="scale(0.92,1)" x="424.89" y="25.47" font-size="6.3" fill="#EE8A34" font-weight="bold" textLength="48.04" lengthAdjust="spacing" stroke="#EE8A34" stroke-width="0.151">Trx-CIB2 1-187</text>
<line x1="378.60" y1="31.60" x2="388.70" y2="31.60" stroke="#9A9AF2" stroke-width="1.0" />
<text transform="scale(0.92,1)" x="424.89" y="33.87" font-size="6.3" fill="#9A9AF2" font-weight="bold" textLength="53.70" lengthAdjust="spacing" stroke="#9A9AF2" stroke-width="0.151">Trx-TMC1 CBD-1</text>
<line x1="378.60" y1="40.40" x2="388.70" y2="40.40" stroke="#D22B2B" stroke-width="1.0" />
<text transform="scale(0.92,1)" x="424.89" y="42.67" font-size="6.3" fill="#D22B2B" font-weight="bold" textLength="24.35" lengthAdjust="spacing" stroke="#D22B2B" stroke-width="0.151">Mixture</text>
<text transform="scale(0.92,1)" x="350.76" y="34.17" font-size="6.3" fill="#D22B2B" font-weight="bold" textLength="44.02" lengthAdjust="spacing" stroke="#D22B2B" stroke-width="0.151">45.1 ± 2.4 kDa</text>
<text transform="scale(0.92,1)" x="377.83" y="68.97" font-size="6.3" fill="#EE8A34" font-weight="bold" textLength="44.13" lengthAdjust="spacing" stroke="#EE8A34" stroke-width="0.151">33.7 ± 1.3 kDa</text>
<text transform="scale(0.92,1)" x="434.67" y="93.77" font-size="6.3" fill="#9A9AF2" font-weight="bold" textLength="43.59" lengthAdjust="spacing" stroke="#9A9AF2" stroke-width="0.151">18.1 ± 0.6 kDa</text>
<rect x="482.30" y="29.20" width="200.30" height="1.40" rx="0" fill="#666" />
<rect x="482.30" y="49.50" width="200.30" height="1.40" rx="0" fill="#333" />
<rect x="482.80" y="108.30" width="200.00" height="1.40" rx="0" fill="#444" />
<text transform="scale(0.92,1)" x="585.98" y="38.60" font-size="7.1" fill="#222" font-weight="bold" textLength="41.52" lengthAdjust="spacing" stroke="#222" stroke-width="0.170">Theoretical</text>
<text transform="scale(0.92,1)" x="590.11" y="46.00" font-size="7.1" fill="#222" font-weight="bold" textLength="32.93" lengthAdjust="spacing" stroke="#222" stroke-width="0.170">Mw (kDa)</text>
<text transform="scale(0.92,1)" x="644.35" y="38.60" font-size="7.1" fill="#222" font-weight="bold" textLength="32.39" lengthAdjust="spacing" stroke="#222" stroke-width="0.170">Detected</text>
<text transform="scale(0.92,1)" x="644.57" y="46.00" font-size="7.1" fill="#222" font-weight="bold" textLength="32.17" lengthAdjust="spacing" stroke="#222" stroke-width="0.170">Mw (kDa)</text>
<text transform="scale(0.92,1)" x="698.26" y="38.60" font-size="7.1" fill="#222" font-weight="bold" textLength="38.80" lengthAdjust="spacing" stroke="#222" stroke-width="0.170">Calculated</text>
<text transform="scale(0.92,1)" x="692.61" y="46.00" font-size="7.1" fill="#222" font-weight="bold" textLength="50.43" lengthAdjust="spacing" stroke="#222" stroke-width="0.170">stoichiometry</text>
<text transform="scale(0.92,1)" x="522.72" y="64.32" font-size="7.0" fill="#EE8A34" font-weight="bold" textLength="53.15" lengthAdjust="spacing" stroke="#EE8A34" stroke-width="0.168">Trx-CIB2 1-187</text>
<text transform="scale(0.92,1)" x="596.63" y="64.32" font-size="7.0" fill="#EE8A34" font-weight="bold" textLength="19.57" lengthAdjust="spacing" stroke="#EE8A34" stroke-width="0.168">~35.1</text>
<text transform="scale(0.92,1)" x="643.37" y="64.32" font-size="7.0" fill="#EE8A34" font-weight="bold" textLength="34.24" lengthAdjust="spacing" stroke="#EE8A34" stroke-width="0.168">33.7 ± 1.3</text>
<text transform="scale(0.92,1)" x="716.63" y="64.32" font-size="7.0" fill="#111" font-weight="bold" textLength="3.26" lengthAdjust="spacing" stroke="#111" stroke-width="0.168">1</text>
<text transform="scale(0.92,1)" x="521.41" y="83.42" font-size="7.0" fill="#9A9AF2" font-weight="bold" textLength="59.46" lengthAdjust="spacing" stroke="#9A9AF2" stroke-width="0.168">Trx-TMC1 CBD-1</text>
<text transform="scale(0.92,1)" x="596.63" y="83.42" font-size="7.0" fill="#9A9AF2" font-weight="bold" textLength="19.57" lengthAdjust="spacing" stroke="#9A9AF2" stroke-width="0.168">~20.2</text>
<text transform="scale(0.92,1)" x="643.37" y="83.42" font-size="7.0" fill="#9A9AF2" font-weight="bold" textLength="34.24" lengthAdjust="spacing" stroke="#9A9AF2" stroke-width="0.168">18.1 ± 0.6</text>
<text transform="scale(0.92,1)" x="716.63" y="83.42" font-size="7.0" fill="#111" font-weight="bold" textLength="3.26" lengthAdjust="spacing" stroke="#111" stroke-width="0.168">1</text>
<text transform="scale(0.92,1)" x="538.26" y="99.52" font-size="7.0" fill="#D22B2B" font-weight="bold" textLength="27.50" lengthAdjust="spacing" stroke="#D22B2B" stroke-width="0.168">Mixture</text>
<text transform="scale(0.92,1)" x="596.63" y="99.52" font-size="7.0" fill="#D22B2B" font-weight="bold" textLength="19.57" lengthAdjust="spacing" stroke="#D22B2B" stroke-width="0.168">~55.3</text>
<text transform="scale(0.92,1)" x="643.37" y="99.52" font-size="7.0" fill="#D22B2B" font-weight="bold" textLength="34.24" lengthAdjust="spacing" stroke="#D22B2B" stroke-width="0.168">45.1 ± 2.4</text>
<text transform="scale(0.92,1)" x="713.04" y="99.52" font-size="7.0" fill="#111" font-weight="bold" textLength="10.00" lengthAdjust="spacing" stroke="#111" stroke-width="0.168">1:1</text>
<text x="275.00" y="172.60" font-size="18.5" fill="#000" font-weight="bold" textLength="12.00" lengthAdjust="spacing" stroke="#000" stroke-width="0.250" >d</text>
<rect x="327.2" y="180.7" width="106.10000000000002" height="157.5" fill="none" stroke="#444" stroke-width="0.95"/>
<line x1="327.20" y1="261.10" x2="433.30" y2="261.10" stroke="#555" stroke-width="1.3" />
<text transform="scale(0.92,1)" x="395.11" y="171.00" font-size="7.8" fill="#111" font-weight="bold" textLength="42.83" lengthAdjust="spacing" stroke="#111" stroke-width="0.187">Time (min)</text>
<text transform="scale(0.95,1)" x="350.95" y="178.80" font-size="5.6" fill="#222" font-weight="bold" text-anchor="middle" letter-spacing="0.15" stroke="#222" stroke-width="0.123">0</text>
<text transform="scale(0.95,1)" x="363.32" y="178.80" font-size="5.6" fill="#222" font-weight="bold" text-anchor="middle" letter-spacing="0.15" stroke="#222" stroke-width="0.123">10</text>
<text transform="scale(0.95,1)" x="375.68" y="178.80" font-size="5.6" fill="#222" font-weight="bold" text-anchor="middle" letter-spacing="0.15" stroke="#222" stroke-width="0.123">20</text>
<text transform="scale(0.95,1)" x="388.05" y="178.80" font-size="5.6" fill="#222" font-weight="bold" text-anchor="middle" letter-spacing="0.15" stroke="#222" stroke-width="0.123">30</text>
<text transform="scale(0.95,1)" x="400.42" y="178.80" font-size="5.6" fill="#222" font-weight="bold" text-anchor="middle" letter-spacing="0.15" stroke="#222" stroke-width="0.123">40</text>
<text transform="scale(0.95,1)" x="412.79" y="178.80" font-size="5.6" fill="#222" font-weight="bold" text-anchor="middle" letter-spacing="0.15" stroke="#222" stroke-width="0.123">50</text>
<text transform="scale(0.95,1)" x="425.16" y="178.80" font-size="5.6" fill="#222" font-weight="bold" text-anchor="middle" letter-spacing="0.15" stroke="#222" stroke-width="0.123">60</text>
<text transform="scale(0.95,1)" x="437.53" y="178.80" font-size="5.6" fill="#222" font-weight="bold" text-anchor="middle" letter-spacing="0.15" stroke="#222" stroke-width="0.123">70</text>
<text transform="scale(0.95,1)" x="449.89" y="178.80" font-size="5.6" fill="#222" font-weight="bold" text-anchor="middle" letter-spacing="0.15" stroke="#222" stroke-width="0.123">80</text>
<line x1="333.40" y1="180.70" x2="333.40" y2="182.50" stroke="#333" stroke-width="0.7" />
<line x1="339.27" y1="180.70" x2="339.27" y2="181.80" stroke="#333" stroke-width="0.7" />
<line x1="345.15" y1="180.70" x2="345.15" y2="182.50" stroke="#333" stroke-width="0.7" />
<line x1="351.02" y1="180.70" x2="351.02" y2="181.80" stroke="#333" stroke-width="0.7" />
<line x1="356.90" y1="180.70" x2="356.90" y2="182.50" stroke="#333" stroke-width="0.7" />
<line x1="362.77" y1="180.70" x2="362.77" y2="181.80" stroke="#333" stroke-width="0.7" />
<line x1="368.65" y1="180.70" x2="368.65" y2="182.50" stroke="#333" stroke-width="0.7" />
<line x1="374.52" y1="180.70" x2="374.52" y2="181.80" stroke="#333" stroke-width="0.7" />
<line x1="380.40" y1="180.70" x2="380.40" y2="182.50" stroke="#333" stroke-width="0.7" />
<line x1="386.27" y1="180.70" x2="386.27" y2="181.80" stroke="#333" stroke-width="0.7" />
<line x1="392.15" y1="180.70" x2="392.15" y2="182.50" stroke="#333" stroke-width="0.7" />
<line x1="398.02" y1="180.70" x2="398.02" y2="181.80" stroke="#333" stroke-width="0.7" />
<line x1="403.90" y1="180.70" x2="403.90" y2="182.50" stroke="#333" stroke-width="0.7" />
<line x1="409.77" y1="180.70" x2="409.77" y2="181.80" stroke="#333" stroke-width="0.7" />
<line x1="415.65" y1="180.70" x2="415.65" y2="182.50" stroke="#333" stroke-width="0.7" />
<line x1="421.52" y1="180.70" x2="421.52" y2="181.80" stroke="#333" stroke-width="0.7" />
<line x1="427.40" y1="180.70" x2="427.40" y2="182.50" stroke="#333" stroke-width="0.7" />
<line x1="433.27" y1="180.70" x2="433.27" y2="181.80" stroke="#333" stroke-width="0.7" />
<text transform="scale(0.95,1)" x="341.47" y="190.60" font-size="5.3" fill="#222" font-weight="bold" text-anchor="end" letter-spacing="0.15" stroke="#222" stroke-width="0.117">0.00</text>
<line x1="325.40" y1="188.70" x2="327.20" y2="188.70" stroke="#333" stroke-width="0.7" />
<line x1="431.50" y1="188.70" x2="433.30" y2="188.70" stroke="#333" stroke-width="0.7" />
<text transform="scale(0.95,1)" x="341.47" y="204.25" font-size="5.3" fill="#222" font-weight="bold" text-anchor="end" letter-spacing="0.15" stroke="#222" stroke-width="0.117">-0.50</text>
<line x1="325.40" y1="202.35" x2="327.20" y2="202.35" stroke="#333" stroke-width="0.7" />
<line x1="431.50" y1="202.35" x2="433.30" y2="202.35" stroke="#333" stroke-width="0.7" />
<text transform="scale(0.95,1)" x="341.47" y="217.90" font-size="5.3" fill="#222" font-weight="bold" text-anchor="end" letter-spacing="0.15" stroke="#222" stroke-width="0.117">-1.00</text>
<line x1="325.40" y1="216.00" x2="327.20" y2="216.00" stroke="#333" stroke-width="0.7" />
<line x1="431.50" y1="216.00" x2="433.30" y2="216.00" stroke="#333" stroke-width="0.7" />
<text transform="scale(0.95,1)" x="341.47" y="231.55" font-size="5.3" fill="#222" font-weight="bold" text-anchor="end" letter-spacing="0.15" stroke="#222" stroke-width="0.117">-1.50</text>
<line x1="325.40" y1="229.65" x2="327.20" y2="229.65" stroke="#333" stroke-width="0.7" />
<line x1="431.50" y1="229.65" x2="433.30" y2="229.65" stroke="#333" stroke-width="0.7" />
<text transform="scale(0.95,1)" x="341.47" y="245.20" font-size="5.3" fill="#222" font-weight="bold" text-anchor="end" letter-spacing="0.15" stroke="#222" stroke-width="0.117">-2.00</text>
<line x1="325.40" y1="243.30" x2="327.20" y2="243.30" stroke="#333" stroke-width="0.7" />
<line x1="431.50" y1="243.30" x2="433.30" y2="243.30" stroke="#333" stroke-width="0.7" />
<text transform="scale(0.95,1)" x="341.47" y="258.85" font-size="5.3" fill="#222" font-weight="bold" text-anchor="end" letter-spacing="0.15" stroke="#222" stroke-width="0.117">-2.50</text>
<line x1="325.40" y1="256.95" x2="327.20" y2="256.95" stroke="#333" stroke-width="0.7" />
<line x1="431.50" y1="256.95" x2="433.30" y2="256.95" stroke="#333" stroke-width="0.7" />
<line x1="326.20" y1="195.52" x2="327.20" y2="195.52" stroke="#333" stroke-width="0.6" />
<line x1="326.20" y1="209.17" x2="327.20" y2="209.17" stroke="#333" stroke-width="0.6" />
<line x1="326.20" y1="222.82" x2="327.20" y2="222.82" stroke="#333" stroke-width="0.6" />
<line x1="326.20" y1="236.47" x2="327.20" y2="236.47" stroke="#333" stroke-width="0.6" />
<line x1="326.20" y1="250.12" x2="327.20" y2="250.12" stroke="#333" stroke-width="0.6" />
<text transform="scale(0.95,1)" x="341.47" y="267.30" font-size="5.3" fill="#222" font-weight="bold" text-anchor="end" letter-spacing="0.15" stroke="#222" stroke-width="0.117">0.00</text>
<line x1="325.40" y1="265.40" x2="327.20" y2="265.40" stroke="#333" stroke-width="0.7" />
<line x1="431.50" y1="265.40" x2="433.30" y2="265.40" stroke="#333" stroke-width="0.7" />
<text transform="scale(0.95,1)" x="341.47" y="276.95" font-size="5.3" fill="#222" font-weight="bold" text-anchor="end" letter-spacing="0.15" stroke="#222" stroke-width="0.117">-5.00</text>
<line x1="325.40" y1="275.05" x2="327.20" y2="275.05" stroke="#333" stroke-width="0.7" />
<line x1="431.50" y1="275.05" x2="433.30" y2="275.05" stroke="#333" stroke-width="0.7" />
<text transform="scale(0.95,1)" x="341.47" y="286.61" font-size="5.3" fill="#222" font-weight="bold" text-anchor="end" letter-spacing="0.15" stroke="#222" stroke-width="0.117">-10.00</text>
<line x1="325.40" y1="284.71" x2="327.20" y2="284.71" stroke="#333" stroke-width="0.7" />
<line x1="431.50" y1="284.71" x2="433.30" y2="284.71" stroke="#333" stroke-width="0.7" />
<text transform="scale(0.95,1)" x="341.47" y="296.26" font-size="5.3" fill="#222" font-weight="bold" text-anchor="end" letter-spacing="0.15" stroke="#222" stroke-width="0.117">-15.00</text>
<line x1="325.40" y1="294.36" x2="327.20" y2="294.36" stroke="#333" stroke-width="0.7" />
<line x1="431.50" y1="294.36" x2="433.30" y2="294.36" stroke="#333" stroke-width="0.7" />
<text transform="scale(0.95,1)" x="341.47" y="305.92" font-size="5.3" fill="#222" font-weight="bold" text-anchor="end" letter-spacing="0.15" stroke="#222" stroke-width="0.117">-20.00</text>
<line x1="325.40" y1="304.02" x2="327.20" y2="304.02" stroke="#333" stroke-width="0.7" />
<line x1="431.50" y1="304.02" x2="433.30" y2="304.02" stroke="#333" stroke-width="0.7" />
<text transform="scale(0.95,1)" x="341.47" y="315.57" font-size="5.3" fill="#222" font-weight="bold" text-anchor="end" letter-spacing="0.15" stroke="#222" stroke-width="0.117">-25.00</text>
<line x1="325.40" y1="313.67" x2="327.20" y2="313.67" stroke="#333" stroke-width="0.7" />
<line x1="431.50" y1="313.67" x2="433.30" y2="313.67" stroke="#333" stroke-width="0.7" />
<text transform="scale(0.95,1)" x="341.47" y="325.23" font-size="5.3" fill="#222" font-weight="bold" text-anchor="end" letter-spacing="0.15" stroke="#222" stroke-width="0.117">-30.00</text>
<line x1="325.40" y1="323.33" x2="327.20" y2="323.33" stroke="#333" stroke-width="0.7" />
<line x1="431.50" y1="323.33" x2="433.30" y2="323.33" stroke="#333" stroke-width="0.7" />
<text transform="scale(0.95,1)" x="341.47" y="334.88" font-size="5.3" fill="#222" font-weight="bold" text-anchor="end" letter-spacing="0.15" stroke="#222" stroke-width="0.117">-35.00</text>
<line x1="325.40" y1="332.99" x2="327.20" y2="332.99" stroke="#333" stroke-width="0.7" />
<line x1="431.50" y1="332.99" x2="433.30" y2="332.99" stroke="#333" stroke-width="0.7" />
<text transform="scale(0.95,1)" x="356.21" y="346.20" font-size="5.8" fill="#222" font-weight="bold" text-anchor="middle" letter-spacing="0.15" stroke="#222" stroke-width="0.128">0.0</text>
<text transform="scale(0.95,1)" x="378.42" y="346.20" font-size="5.8" fill="#222" font-weight="bold" text-anchor="middle" letter-spacing="0.15" stroke="#222" stroke-width="0.128">0.5</text>
<text transform="scale(0.95,1)" x="400.63" y="346.20" font-size="5.8" fill="#222" font-weight="bold" text-anchor="middle" letter-spacing="0.15" stroke="#222" stroke-width="0.128">1.0</text>
<text transform="scale(0.95,1)" x="422.84" y="346.20" font-size="5.8" fill="#222" font-weight="bold" text-anchor="middle" letter-spacing="0.15" stroke="#222" stroke-width="0.128">1.5</text>
<text transform="scale(0.95,1)" x="445.05" y="346.20" font-size="5.8" fill="#222" font-weight="bold" text-anchor="middle" letter-spacing="0.15" stroke="#222" stroke-width="0.128">2.0</text>
<line x1="338.40" y1="338.20" x2="338.40" y2="336.40" stroke="#333" stroke-width="0.7" />
<line x1="338.40" y1="261.10" x2="338.40" y2="262.90" stroke="#333" stroke-width="0.7" />
<line x1="348.95" y1="338.20" x2="348.95" y2="337.10" stroke="#333" stroke-width="0.7" />
<line x1="348.95" y1="261.10" x2="348.95" y2="262.20" stroke="#333" stroke-width="0.7" />
<line x1="359.50" y1="338.20" x2="359.50" y2="336.40" stroke="#333" stroke-width="0.7" />
<line x1="359.50" y1="261.10" x2="359.50" y2="262.90" stroke="#333" stroke-width="0.7" />
<line x1="370.05" y1="338.20" x2="370.05" y2="337.10" stroke="#333" stroke-width="0.7" />
<line x1="370.05" y1="261.10" x2="370.05" y2="262.20" stroke="#333" stroke-width="0.7" />
<line x1="380.60" y1="338.20" x2="380.60" y2="336.40" stroke="#333" stroke-width="0.7" />
<line x1="380.60" y1="261.10" x2="380.60" y2="262.90" stroke="#333" stroke-width="0.7" />
<line x1="391.15" y1="338.20" x2="391.15" y2="337.10" stroke="#333" stroke-width="0.7" />
<line x1="391.15" y1="261.10" x2="391.15" y2="262.20" stroke="#333" stroke-width="0.7" />
<line x1="401.70" y1="338.20" x2="401.70" y2="336.40" stroke="#333" stroke-width="0.7" />
<line x1="401.70" y1="261.10" x2="401.70" y2="262.90" stroke="#333" stroke-width="0.7" />
<line x1="412.25" y1="338.20" x2="412.25" y2="337.10" stroke="#333" stroke-width="0.7" />
<line x1="412.25" y1="261.10" x2="412.25" y2="262.20" stroke="#333" stroke-width="0.7" />
<line x1="422.80" y1="338.20" x2="422.80" y2="336.40" stroke="#333" stroke-width="0.7" />
<line x1="422.80" y1="261.10" x2="422.80" y2="262.90" stroke="#333" stroke-width="0.7" />
<text transform="scale(0.92,1)" x="397.72" y="354.70" font-size="8.0" fill="#111" font-weight="bold" textLength="46.85" lengthAdjust="spacing" stroke="#111" stroke-width="0.192">Molar Ratio</text>
<text x="0.00" y="0.00" font-size="7.0" fill="#111" font-weight="bold" textLength="26.00" lengthAdjust="spacing" stroke="#111" stroke-width="0.168" transform="translate(303.6,237.3) rotate(-90)">μcal/sec</text>
<text x="0.00" y="0.00" font-size="7.5" fill="#111" font-weight="bold" textLength="73.00" lengthAdjust="spacing" stroke="#111" stroke-width="0.180" transform="translate(304.4,329.3) rotate(-90)">kcal/mol of injectant</text>
<path d="M333.2,188.8 L432.0,188.8" fill="none" stroke="#111" stroke-width="0.9"/>
<path d="M336.00,217.70 L336.19,215.06 L336.38,212.45 L336.57,209.86 L336.77,207.30 L336.96,204.77 L337.15,202.28 L337.34,199.83 L337.53,197.43 L337.73,195.09 L337.92,192.83 L338.11,190.68 L338.30,188.80 M339.51,249.70 L339.71,244.14 L339.90,238.63 L340.09,233.18 L340.28,227.79 L340.47,222.46 L340.66,217.21 L340.86,212.05 L341.05,206.99 L341.24,202.05 L341.43,197.28 L341.62,192.76 L341.81,188.80 M343.03,257.60 L343.22,251.32 L343.41,245.10 L343.60,238.94 L343.80,232.84 L343.99,226.83 L344.18,220.90 L344.37,215.06 L344.56,209.35 L344.75,203.77 L344.95,198.39 L345.14,193.27 L345.33,188.80 M346.55,248.80 L346.74,243.32 L346.93,237.90 L347.12,232.52 L347.31,227.21 L347.50,221.96 L347.69,216.79 L347.89,211.70 L348.08,206.72 L348.27,201.86 L348.46,197.16 L348.65,192.70 L348.85,188.80 M350.06,249.20 L350.25,243.69 L350.44,238.22 L350.63,232.82 L350.83,227.47 L351.02,222.18 L351.21,216.98 L351.40,211.86 L351.59,206.84 L351.79,201.95 L351.98,197.22 L352.17,192.73 L352.36,188.80 M353.57,246.30 L353.77,241.05 L353.96,235.85 L354.15,230.70 L354.34,225.61 L354.53,220.58 L354.72,215.62 L354.92,210.75 L355.11,205.97 L355.30,201.31 L355.49,196.81 L355.68,192.54 L355.88,188.80 M357.09,244.50 L357.28,239.42 L357.47,234.38 L357.66,229.39 L357.86,224.46 L358.05,219.59 L358.24,214.78 L358.43,210.06 L358.62,205.43 L358.81,200.92 L359.01,196.56 L359.20,192.42 L359.39,188.80 M360.61,245.50 L360.80,240.32 L360.99,235.20 L361.18,230.12 L361.37,225.10 L361.56,220.14 L361.75,215.25 L361.95,210.44 L362.14,205.73 L362.33,201.14 L362.52,196.70 L362.71,192.49 L362.91,188.80 M364.12,245.00 L364.31,239.87 L364.50,234.79 L364.69,229.75 L364.89,224.78 L365.08,219.86 L365.27,215.02 L365.46,210.25 L365.65,205.58 L365.85,201.03 L366.04,196.63 L366.23,192.45 L366.42,188.80 M367.63,240.10 L367.83,235.42 L368.02,230.78 L368.21,226.18 L368.40,221.64 L368.59,217.15 L368.78,212.73 L368.98,208.38 L369.17,204.12 L369.36,199.96 L369.55,195.95 L369.74,192.13 L369.94,188.80 M371.15,229.70 L371.34,225.97 L371.53,222.27 L371.72,218.61 L371.92,214.98 L372.11,211.41 L372.30,207.88 L372.49,204.41 L372.68,201.01 L372.88,197.70 L373.07,194.50 L373.26,191.46 L373.45,188.80 M374.67,224.30 L374.86,221.06 L375.05,217.85 L375.24,214.67 L375.43,211.53 L375.62,208.42 L375.81,205.36 L376.01,202.35 L376.20,199.40 L376.39,196.53 L376.58,193.75 L376.77,191.11 L376.97,188.80 M378.18,214.80 L378.37,212.43 L378.55,210.08 L378.74,207.75 L378.93,205.44 L379.11,203.17 L379.30,200.93 L379.49,198.73 L379.67,196.56 L379.86,194.46 L380.05,192.42 L380.23,190.49 L380.42,188.80 M381.69,205.80 L381.85,204.25 L382.01,202.71 L382.17,201.19 L382.32,199.68 L382.48,198.20 L382.63,196.73 L382.79,195.29 L382.95,193.88 L383.11,192.50 L383.26,191.17 L383.42,189.90 L383.57,188.80 M385.21,200.70 L385.35,199.61 L385.49,198.54 L385.63,197.47 L385.77,196.42 L385.91,195.38 L386.05,194.35 L386.19,193.34 L386.33,192.35 L386.47,191.39 L386.61,190.46 L386.75,189.57 L386.89,188.80 M388.73,196.80 L388.85,196.07 L388.98,195.35 L389.11,194.63 L389.23,193.92 L389.36,193.22 L389.49,192.53 L389.61,191.85 L389.74,191.19 L389.87,190.54 L389.99,189.91 L390.12,189.32 L390.25,188.80 M392.24,194.60 L392.36,194.07 L392.48,193.55 L392.60,193.03 L392.72,192.51 L392.84,192.01 L392.96,191.51 L393.08,191.01 L393.19,190.53 L393.31,190.06 L393.43,189.61 L393.55,189.18 L393.67,188.80 M395.75,193.40 L395.87,192.98 L395.99,192.56 L396.10,192.15 L396.22,191.74 L396.33,191.34 L396.45,190.95 L396.56,190.56 L396.68,190.17 L396.79,189.80 L396.91,189.44 L397.02,189.10 L397.14,188.80 M399.27,192.50 L399.38,192.16 L399.49,191.83 L399.61,191.50 L399.72,191.17 L399.83,190.85 L399.94,190.53 L400.06,190.21 L400.17,189.91 L400.28,189.61 L400.39,189.32 L400.51,189.04 L400.62,188.80 M402.78,192.00 L402.90,191.71 L403.01,191.42 L403.12,191.13 L403.23,190.85 L403.34,190.57 L403.45,190.29 L403.56,190.02 L403.67,189.76 L403.78,189.50 L403.89,189.25 L404.00,189.01 L404.11,188.80 M406.30,191.60 L406.41,191.34 L406.52,191.09 L406.63,190.84 L406.74,190.59 L406.85,190.35 L406.96,190.11 L407.07,189.87 L407.17,189.64 L407.28,189.41 L407.39,189.19 L407.50,188.98 L407.61,188.80 M409.81,191.30 L409.92,191.07 L410.03,190.85 L410.14,190.62 L410.25,190.40 L410.36,190.18 L410.46,189.97 L410.57,189.75 L410.68,189.55 L410.79,189.34 L410.90,189.15 L411.01,188.96 L411.12,188.80 M413.33,191.00 L413.44,190.80 L413.54,190.60 L413.65,190.40 L413.76,190.21 L413.87,190.02 L413.97,189.83 L414.08,189.64 L414.19,189.46 L414.30,189.28 L414.40,189.11 L414.51,188.94 L414.62,188.80 M416.85,190.80 L416.95,190.62 L417.06,190.44 L417.17,190.26 L417.27,190.08 L417.38,189.91 L417.49,189.73 L417.59,189.56 L417.70,189.40 L417.81,189.24 L417.91,189.08 L418.02,188.93 L418.12,188.80 M420.36,190.60 L420.47,190.44 L420.57,190.27 L420.68,190.11 L420.78,189.95 L420.89,189.79 L421.00,189.64 L421.10,189.49 L421.21,189.34 L421.31,189.19 L421.42,189.05 L421.53,188.92 L421.63,188.80 M423.88,190.50 L423.98,190.34 L424.09,190.19 L424.19,190.04 L424.30,189.89 L424.40,189.74 L424.51,189.59 L424.61,189.45 L424.72,189.31 L424.83,189.17 L424.93,189.04 L425.04,188.91 L425.14,188.80 M427.39,190.40 L427.50,190.25 L427.60,190.11 L427.71,189.97 L427.81,189.82 L427.92,189.68 L428.02,189.55 L428.13,189.41 L428.23,189.28 L428.34,189.15 L428.44,189.02 L428.55,188.90 L428.65,188.80" fill="none" stroke="#555" stroke-width="0.8" stroke-linejoin="round"/>
<path d="M335.70,188.80 L336.00,217.70 M339.21,188.80 L339.51,249.70 M342.73,188.80 L343.03,257.60 M346.25,188.80 L346.55,248.80 M349.76,188.80 L350.06,249.20 M353.27,188.80 L353.57,246.30 M356.79,188.80 L357.09,244.50 M360.31,188.80 L360.61,245.50 M363.82,188.80 L364.12,245.00 M367.33,188.80 L367.63,240.10 M370.85,188.80 L371.15,229.70 M374.37,188.80 L374.67,224.30 M377.88,188.80 L378.18,214.80 M381.39,188.80 L381.69,205.80 M384.91,188.80 L385.21,200.70 M388.43,188.80 L388.73,196.80 M391.94,188.80 L392.24,194.60 M395.45,188.80 L395.75,193.40 M398.97,188.80 L399.27,192.50 M402.48,188.80 L402.78,192.00 M406.00,188.80 L406.30,191.60 M409.51,188.80 L409.81,191.30 M413.03,188.80 L413.33,191.00 M416.55,188.80 L416.85,190.80 M420.06,188.80 L420.36,190.60 M423.57,188.80 L423.88,190.50 M427.09,188.80 L427.39,190.40" fill="none" stroke="#000" stroke-width="1.0" stroke-linejoin="round"/>
<path d="M340.00,332.10 L340.42,332.10 L341.01,332.11 L341.71,332.13 L342.46,332.13 L343.20,332.12 L343.90,332.10 L344.55,332.06 L345.20,332.02 L345.86,331.96 L346.51,331.89 L347.16,331.81 L347.80,331.70 L348.45,331.56 L349.10,331.40 L349.75,331.21 L350.39,331.03 L351.01,330.85 L351.60,330.70 L352.15,330.58 L352.67,330.49 L353.18,330.41 L353.67,330.32 L354.17,330.22 L354.70,330.10 L355.25,329.95 L355.80,329.79 L356.37,329.61 L356.94,329.41 L357.52,329.21 L358.10,329.00 L358.69,328.78 L359.30,328.55 L359.92,328.31 L360.53,328.05 L361.13,327.78 L361.70,327.50 L362.25,327.21 L362.79,326.92 L363.31,326.62 L363.82,326.29 L364.32,325.92 L364.80,325.50 L365.26,325.03 L365.69,324.53 L366.10,323.99 L366.51,323.40 L366.94,322.78 L367.40,322.10 L367.89,321.39 L368.40,320.65 L368.92,319.87 L369.45,319.03 L369.98,318.11 L370.50,317.10 L371.02,316.00 L371.53,314.83 L372.05,313.57 L372.57,312.25 L373.08,310.86 L373.60,309.40 L374.12,307.84 L374.63,306.16 L375.15,304.42 L375.67,302.65 L376.18,300.89 L376.70,299.20 L377.21,297.54 L377.73,295.89 L378.24,294.25 L378.75,292.64 L379.27,291.09 L379.80,289.60 L380.34,288.16 L380.88,286.76 L381.43,285.41 L381.99,284.12 L382.54,282.91 L383.10,281.80 L383.66,280.80 L384.23,279.90 L384.80,279.08 L385.37,278.31 L385.94,277.60 L386.50,276.90 L387.06,276.23 L387.61,275.61 L388.16,275.03 L388.71,274.49 L389.26,273.98 L389.80,273.50 L390.34,273.05 L390.87,272.64 L391.39,272.26 L391.92,271.91 L392.46,271.59 L393.00,271.30 L393.56,271.04 L394.12,270.81 L394.69,270.62 L395.27,270.44 L395.84,270.27 L396.40,270.10 L396.96,269.93 L397.51,269.77 L398.06,269.61 L398.60,269.47 L399.15,269.33 L399.70,269.20 L400.25,269.08 L400.80,268.97 L401.34,268.88 L401.89,268.78 L402.44,268.69 L403.00,268.60 L403.56,268.51 L404.12,268.42 L404.69,268.34 L405.26,268.26 L405.83,268.18 L406.40,268.10 L406.98,268.03 L407.56,267.96 L408.14,267.89 L408.72,267.82 L409.31,267.76 L409.90,267.70 L410.50,267.64 L411.10,267.59 L411.70,267.53 L412.30,267.48 L412.90,267.44 L413.50,267.40 L414.09,267.37 L414.67,267.36 L415.25,267.35 L415.83,267.34 L416.41,267.33 L417.00,267.30 L417.60,267.26 L418.20,267.21 L418.81,267.16 L419.41,267.10 L420.01,267.05 L420.60,267.00 L421.22,266.96 L421.87,266.92 L422.53,266.88 L423.13,266.85 L423.63,266.82 L424.00,266.80" fill="none" stroke="#111" stroke-width="0.9" stroke-linejoin="round" />
<rect x="338.90" y="331.00" width="2.20" height="2.20" rx="0" fill="#111" />
<rect x="342.80" y="331.00" width="2.20" height="2.20" rx="0" fill="#111" />
<rect x="346.70" y="330.60" width="2.20" height="2.20" rx="0" fill="#111" />
<rect x="350.50" y="329.60" width="2.20" height="2.20" rx="0" fill="#111" />
<rect x="353.60" y="329.00" width="2.20" height="2.20" rx="0" fill="#111" />
<rect x="357.00" y="327.90" width="2.20" height="2.20" rx="0" fill="#111" />
<rect x="360.60" y="326.40" width="2.20" height="2.20" rx="0" fill="#111" />
<rect x="363.70" y="324.40" width="2.20" height="2.20" rx="0" fill="#111" />
<rect x="366.30" y="321.00" width="2.20" height="2.20" rx="0" fill="#111" />
<rect x="369.40" y="316.00" width="2.20" height="2.20" rx="0" fill="#111" />
<rect x="372.50" y="308.30" width="2.20" height="2.20" rx="0" fill="#111" />
<rect x="375.60" y="298.10" width="2.20" height="2.20" rx="0" fill="#111" />
<rect x="378.70" y="288.50" width="2.20" height="2.20" rx="0" fill="#111" />
<rect x="382.00" y="280.70" width="2.20" height="2.20" rx="0" fill="#111" />
<rect x="385.40" y="275.80" width="2.20" height="2.20" rx="0" fill="#111" />
<rect x="388.70" y="272.40" width="2.20" height="2.20" rx="0" fill="#111" />
<rect x="391.90" y="270.20" width="2.20" height="2.20" rx="0" fill="#111" />
<rect x="395.30" y="269.00" width="2.20" height="2.20" rx="0" fill="#111" />
<rect x="398.60" y="268.10" width="2.20" height="2.20" rx="0" fill="#111" />
<rect x="401.90" y="267.50" width="2.20" height="2.20" rx="0" fill="#111" />
<rect x="405.30" y="267.00" width="2.20" height="2.20" rx="0" fill="#111" />
<rect x="408.80" y="266.60" width="2.20" height="2.20" rx="0" fill="#111" />
<rect x="412.40" y="266.30" width="2.20" height="2.20" rx="0" fill="#111" />
<rect x="415.90" y="266.20" width="2.20" height="2.20" rx="0" fill="#111" />
<rect x="419.50" y="265.90" width="2.20" height="2.20" rx="0" fill="#111" />
<rect x="422.90" y="265.70" width="2.20" height="2.20" rx="0" fill="#111" />
<text transform="scale(0.92,1)" x="408.70" y="326.22" font-size="7.0" fill="#2E2EE0" font-weight="bold" textLength="54.89" lengthAdjust="spacing" stroke="#2E2EE0" stroke-width="0.168">K<tspan font-size="4.2" dy="1.2">d</tspan><tspan dy="-1.2">=0.3 ± 0.1 μM</tspan></text>
<text transform="scale(0.92,1)" x="414.35" y="232.88" font-size="6.9" fill="#9999EE" font-weight="bold" textLength="47.50" lengthAdjust="spacing" stroke="#9999EE" stroke-width="0.166">TMC1 CBD-1</text>
<line x1="400.90" y1="235.80" x2="400.90" y2="239.60" stroke="#111" stroke-width="1.0" />
<path d="M398.9,238.9 L402.9,238.9 L400.9,242.6 Z" fill="#111"/>
<text transform="scale(0.92,1)" x="418.26" y="250.88" font-size="6.9" fill="#EE6A2A" font-weight="bold" textLength="37.83" lengthAdjust="spacing" stroke="#EE6A2A" stroke-width="0.166">CIB2 1-187</text>
<text x="483.60" y="172.90" font-size="18.5" fill="#000" font-weight="bold" textLength="10.40" lengthAdjust="spacing" stroke="#000" stroke-width="0.250" >e</text>
<rect x="493.50" y="188.20" width="166.10" height="1.40" rx="0" fill="#777" />
<rect x="493.50" y="221.70" width="166.10" height="1.30" rx="0" fill="#555" />
<rect x="493.90" y="305.80" width="165.60" height="1.30" rx="0" fill="#444" />
<text transform="scale(0.92,1)" x="551.52" y="211.10" font-size="11.5" fill="#111" font-weight="bold" textLength="35.00" lengthAdjust="spacing" stroke="#111" stroke-width="0.250">TMC1</text>
<text transform="scale(0.92,1)" x="587.72" y="205.50" font-size="6.0" fill="#111" font-weight="bold" textLength="21.41" lengthAdjust="spacing" stroke="#111" stroke-width="0.144">CBD-1</text>
<text transform="scale(0.92,1)" x="651.85" y="209.20" font-size="11.0" fill="#111" font-weight="bold" textLength="44.89" lengthAdjust="spacing" stroke="#111" stroke-width="0.250">K<tspan font-size="6" dy="2.2">d</tspan><tspan dy="-2.2"> (μM)</tspan></text>
<text transform="scale(0.92,1)" x="558.70" y="240.57" font-size="10.2" fill="#111" font-weight="bold" textLength="26.09" lengthAdjust="spacing" stroke="#111" stroke-width="0.245">CIB1</text>
<text transform="scale(0.92,1)" x="658.26" y="240.57" font-size="10.2" fill="#111" font-weight="bold" textLength="31.41" lengthAdjust="spacing" stroke="#111" stroke-width="0.245">22 ± 6</text>
<text transform="scale(0.92,1)" x="558.70" y="259.77" font-size="10.2" fill="#111" font-weight="bold" textLength="26.09" lengthAdjust="spacing" stroke="#111" stroke-width="0.245">CIB2</text>
<text transform="scale(0.92,1)" x="651.96" y="259.77" font-size="10.2" fill="#111" font-weight="bold" textLength="45.76" lengthAdjust="spacing" stroke="#111" stroke-width="0.245">0.3 ± 0.1</text>
<text transform="scale(0.92,1)" x="558.70" y="278.77" font-size="10.2" fill="#111" font-weight="bold" textLength="26.09" lengthAdjust="spacing" stroke="#111" stroke-width="0.245">CIB3</text>
<text transform="scale(0.92,1)" x="652.61" y="278.77" font-size="10.2" fill="#111" font-weight="bold" textLength="45.11" lengthAdjust="spacing" stroke="#111" stroke-width="0.245">1.3 ± 0.1</text>
<text transform="scale(0.92,1)" x="558.70" y="298.27" font-size="10.2" fill="#111" font-weight="bold" textLength="26.09" lengthAdjust="spacing" stroke="#111" stroke-width="0.245">CIB4</text>
<text transform="scale(0.92,1)" x="662.50" y="298.27" font-size="10.2" fill="#111" font-weight="bold" textLength="24.35" lengthAdjust="spacing" stroke="#111" stroke-width="0.245">N.D.</text>
</svg></body></html>
